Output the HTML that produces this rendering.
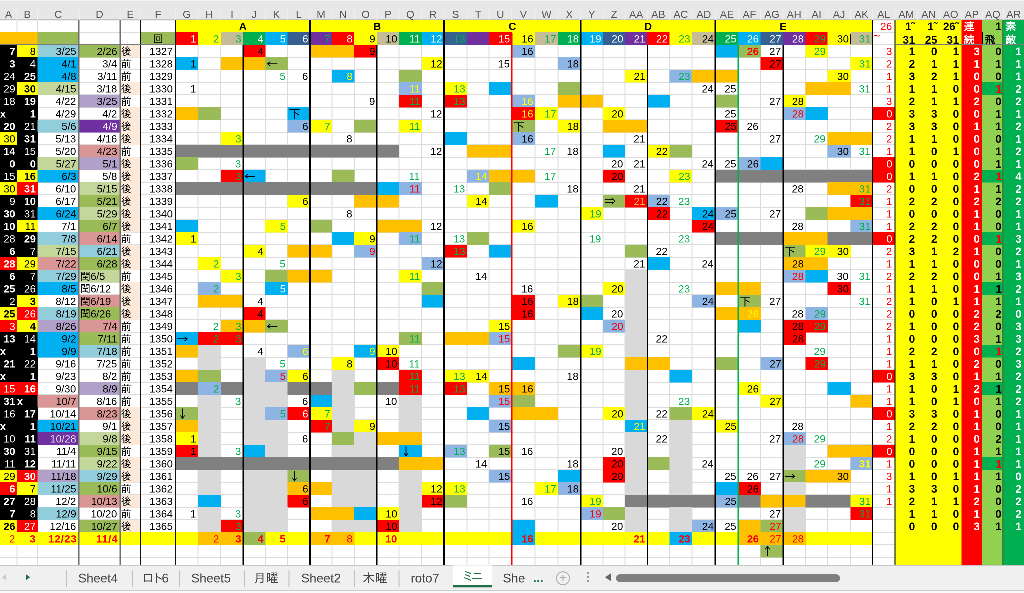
<!DOCTYPE html>
<html lang="ja"><head><meta charset="utf-8"><title>ミニ</title>
<style>
html,body{margin:0;padding:0;background:#fff;overflow:hidden}
#o{position:relative;width:1024px;height:593px;overflow:hidden;background:#fff}
#w{position:absolute;left:0;top:0;width:4096px;height:2372px;overflow:hidden;transform:scale(0.25);transform-origin:0 0;will-change:transform;font-family:"Liberation Sans","IPAGothic","Noto Sans CJK JP",sans-serif;font-size:42px;color:#000}
.c{position:absolute;box-sizing:border-box;text-align:right;padding-right:8px;white-space:nowrap;overflow:hidden}
.b{font-weight:bold}
.l{text-align:left;padding-left:4px;padding-right:0}
.x0{padding-left:0}
.ctr{text-align:center;padding:0}
.jp{font-family:"Liberation Sans","IPAGothic","Noto Sans CJK JP",sans-serif}
.dt{padding-right:12px}
.dt.l{padding-left:4px}
.f{padding-right:11px}
.big{letter-spacing:2px}
.al{padding-right:12px}
.rb{font-weight:bold;font-size:44px;padding-right:12px}
.dn{padding-top:4px}
.rb{padding-right:10px}
.rb.aq{padding-right:7px}
.ar{font-family:"IPAGothic","Noto Sans CJK JP",sans-serif;font-size:48px;padding-left:4px}
.rb.l{padding-left:8px;padding-right:0}
.ch{position:absolute;top:30px;height:56px;line-height:56px;text-align:center;color:#555;font-size:42px}
.cs{position:absolute;top:36px;width:4px;height:44px;background:#eeeeee}
.vl{position:absolute;top:80px;width:4px;height:2181px;background:#dcdcdc}
.hl{position:absolute;left:0;width:3580px;height:4px;background:#dcdcdc}
.sl{position:absolute}
#hd{position:absolute;left:0;top:0;width:4096px;height:80px;background:#e7e7e7;border-bottom:4px solid #c2c2c2;border-top:4px solid #f4f4f4;box-sizing:border-box}
#tb{position:absolute;left:0;top:2261px;width:4096px;height:112px;background:#f0f0f0;border-top:4px solid #c6c6c6;box-sizing:border-box;font-size:50px;color:#444}
.tab{position:absolute;top:16px;width:320px;height:64px;line-height:64px;text-align:center}
.tsep{position:absolute;top:16px;width:4px;height:68px;background:#c0c0c0}
</style></head><body>
<div id="o"><div id="w">
<!-- column fills on the right -->
<div class="c" style="left:3580px;top:80px;width:266px;height:2181px;background:#FFFF00"></div>
<div class="c" style="left:3846px;top:80px;width:83px;height:2181px;background:#FF0000"></div>
<div class="c" style="left:3929px;top:80px;width:84px;height:2181px;background:#92D050"></div>
<div class="c" style="left:4013px;top:80px;width:83px;height:2181px;background:#00B050"></div>
<div class="vl" style="left:66px"></div>
<div class="vl" style="left:148px"></div>
<div class="vl" style="left:314px"></div>
<div class="vl" style="left:478px"></div>
<div class="vl" style="left:560px"></div>
<div class="vl" style="left:700px"></div>
<div class="vl" style="left:790px"></div>
<div class="vl" style="left:881px"></div>
<div class="vl" style="left:970px"></div>
<div class="vl" style="left:1059px"></div>
<div class="vl" style="left:1148px"></div>
<div class="vl" style="left:1238px"></div>
<div class="vl" style="left:1326px"></div>
<div class="vl" style="left:1415px"></div>
<div class="vl" style="left:1506px"></div>
<div class="vl" style="left:1594px"></div>
<div class="vl" style="left:1685px"></div>
<div class="vl" style="left:1774px"></div>
<div class="vl" style="left:1866px"></div>
<div class="vl" style="left:1954px"></div>
<div class="vl" style="left:2045px"></div>
<div class="vl" style="left:2138px"></div>
<div class="vl" style="left:2230px"></div>
<div class="vl" style="left:2320px"></div>
<div class="vl" style="left:2410px"></div>
<div class="vl" style="left:2498px"></div>
<div class="vl" style="left:2587px"></div>
<div class="vl" style="left:2676px"></div>
<div class="vl" style="left:2766px"></div>
<div class="vl" style="left:2860px"></div>
<div class="vl" style="left:2951px"></div>
<div class="vl" style="left:3040px"></div>
<div class="vl" style="left:3130px"></div>
<div class="vl" style="left:3220px"></div>
<div class="vl" style="left:3308px"></div>
<div class="vl" style="left:3400px"></div>
<div class="vl" style="left:3488px"></div>
<div class="vl" style="left:3578px"></div>
<div class="hl" style="top:78px"></div>
<div class="hl" style="top:127px"></div>
<div class="hl" style="top:177px"></div>
<div class="hl" style="top:227px"></div>
<div class="hl" style="top:277px"></div>
<div class="hl" style="top:327px"></div>
<div class="hl" style="top:377px"></div>
<div class="hl" style="top:427px"></div>
<div class="hl" style="top:477px"></div>
<div class="hl" style="top:527px"></div>
<div class="hl" style="top:577px"></div>
<div class="hl" style="top:627px"></div>
<div class="hl" style="top:677px"></div>
<div class="hl" style="top:727px"></div>
<div class="hl" style="top:777px"></div>
<div class="hl" style="top:827px"></div>
<div class="hl" style="top:877px"></div>
<div class="hl" style="top:927px"></div>
<div class="hl" style="top:977px"></div>
<div class="hl" style="top:1027px"></div>
<div class="hl" style="top:1077px"></div>
<div class="hl" style="top:1127px"></div>
<div class="hl" style="top:1177px"></div>
<div class="hl" style="top:1227px"></div>
<div class="hl" style="top:1277px"></div>
<div class="hl" style="top:1327px"></div>
<div class="hl" style="top:1377px"></div>
<div class="hl" style="top:1427px"></div>
<div class="hl" style="top:1477px"></div>
<div class="hl" style="top:1527px"></div>
<div class="hl" style="top:1577px"></div>
<div class="hl" style="top:1627px"></div>
<div class="hl" style="top:1677px"></div>
<div class="hl" style="top:1727px"></div>
<div class="hl" style="top:1777px"></div>
<div class="hl" style="top:1827px"></div>
<div class="hl" style="top:1877px"></div>
<div class="hl" style="top:1927px"></div>
<div class="hl" style="top:1977px"></div>
<div class="hl" style="top:2027px"></div>
<div class="hl" style="top:2077px"></div>
<div class="hl" style="top:2127px"></div>
<div class="hl" style="top:2177px"></div>
<div class="hl" style="top:2227px"></div>
<div class="c b ctr" style="left:702px;top:80px;width:539px;height:50px;line-height:52px;background:#FFFF00;">A</div>
<div class="c b ctr" style="left:1240px;top:80px;width:537px;height:50px;line-height:52px;background:#FFFF00;">B</div>
<div class="c b ctr" style="left:1776px;top:80px;width:547px;height:50px;line-height:52px;background:#FFFF00;">C</div>
<div class="c b ctr" style="left:2322px;top:80px;width:541px;height:50px;line-height:52px;background:#FFFF00;">D</div>
<div class="c b ctr" style="left:2862px;top:80px;width:541px;height:50px;line-height:52px;background:#FFFF00;">E</div>
<div class="c b ctr" style="left:3402px;top:80px;width:89px;height:50px;line-height:52px;background:#FFFF00;"></div>
<div class="c" style="left:702px;top:129px;width:91px;height:51px;line-height:53px;background:#FF0000;color:#FFFFFF;">1</div>
<div class="c" style="left:792px;top:129px;width:92px;height:51px;line-height:53px;background:#FFFF00;color:#00B050;">2</div>
<div class="c" style="left:883px;top:129px;width:90px;height:51px;line-height:53px;background:#C4BD97;color:#00B050;">3</div>
<div class="c" style="left:972px;top:129px;width:90px;height:51px;line-height:53px;background:#00B050;color:#FFFFFF;">4</div>
<div class="c" style="left:1061px;top:129px;width:90px;height:51px;line-height:53px;background:#00B0F0;color:#FFFFFF;">5</div>
<div class="c" style="left:1150px;top:129px;width:91px;height:51px;line-height:53px;background:#366092;color:#FFFFFF;">6</div>
<div class="c" style="left:1240px;top:129px;width:89px;height:51px;line-height:53px;background:#7030A0;color:#00B050;">7</div>
<div class="c" style="left:1328px;top:129px;width:90px;height:51px;line-height:53px;background:#FF0000;color:#FFFFFF;">8</div>
<div class="c" style="left:1417px;top:129px;width:92px;height:51px;line-height:53px;background:#FFFF00;color:#000000;">9</div>
<div class="c" style="left:1508px;top:129px;width:89px;height:51px;line-height:53px;background:#C4BD97;color:#000000;">10</div>
<div class="c" style="left:1596px;top:129px;width:92px;height:51px;line-height:53px;background:#00B050;color:#FFFFFF;">11</div>
<div class="c" style="left:1687px;top:129px;width:90px;height:51px;line-height:53px;background:#00B0F0;color:#FFFFFF;">12</div>
<div class="c" style="left:1776px;top:129px;width:93px;height:51px;line-height:53px;background:#366092;color:#00B050;">13</div>
<div class="c" style="left:1868px;top:129px;width:89px;height:51px;line-height:53px;background:#7030A0;color:#7030A0;">14</div>
<div class="c" style="left:1956px;top:129px;width:92px;height:51px;line-height:53px;background:#FF0000;color:#FFFFFF;">15</div>
<div class="c" style="left:2047px;top:129px;width:94px;height:51px;line-height:53px;background:#FFFF00;color:#000000;">16</div>
<div class="c" style="left:2140px;top:129px;width:93px;height:51px;line-height:53px;background:#C4BD97;color:#00B050;">17</div>
<div class="c" style="left:2232px;top:129px;width:91px;height:51px;line-height:53px;background:#00B050;color:#FFFFFF;">18</div>
<div class="c" style="left:2322px;top:129px;width:91px;height:51px;line-height:53px;background:#00B0F0;color:#FFFFFF;">19</div>
<div class="c" style="left:2412px;top:129px;width:89px;height:51px;line-height:53px;background:#366092;color:#FFFFFF;">20</div>
<div class="c" style="left:2500px;top:129px;width:90px;height:51px;line-height:53px;background:#7030A0;color:#FFFFFF;">21</div>
<div class="c" style="left:2589px;top:129px;width:90px;height:51px;line-height:53px;background:#FF0000;color:#FFFFFF;">22</div>
<div class="c" style="left:2678px;top:129px;width:91px;height:51px;line-height:53px;background:#FFFF00;color:#00B050;">23</div>
<div class="c" style="left:2768px;top:129px;width:95px;height:51px;line-height:53px;background:#C4BD97;color:#000000;">24</div>
<div class="c" style="left:2862px;top:129px;width:92px;height:51px;line-height:53px;background:#00B050;color:#FFFFFF;">25</div>
<div class="c" style="left:2953px;top:129px;width:90px;height:51px;line-height:53px;background:#00B0F0;color:#FFFFFF;">26</div>
<div class="c" style="left:3042px;top:129px;width:91px;height:51px;line-height:53px;background:#366092;color:#FFFFFF;">27</div>
<div class="c" style="left:3132px;top:129px;width:91px;height:51px;line-height:53px;background:#7030A0;color:#FFFFFF;">28</div>
<div class="c" style="left:3222px;top:129px;width:89px;height:51px;line-height:53px;background:#FF0000;color:#00B050;">29</div>
<div class="c" style="left:3310px;top:129px;width:93px;height:51px;line-height:53px;background:#FFFF00;color:#000000;">30</div>
<div class="c" style="left:3402px;top:129px;width:89px;height:51px;line-height:53px;background:#C4BD97;color:#00B050;">31</div>
<div class="c" style="left:0px;top:129px;width:151px;height:51px;line-height:53px;background:#FFC000;"></div>
<div class="c" style="left:150px;top:129px;width:167px;height:51px;line-height:53px;background:#9BBB59;"></div>
<div class="c ctr jp" style="left:562px;top:129px;width:141px;height:51px;line-height:53px;background:#9BBB59;">回</div>
<div class="c al" style="left:3490px;top:80px;width:90px;height:49px;line-height:52px;color:#FF0000;">26</div>
<div class="c l" style="left:3490px;top:129px;width:90px;height:50px;line-height:53px;color:#FF0000;line-height:28px;font-size:48px">~</div>
<div class="c rb" style="left:3580px;top:80px;width:90px;height:49px;line-height:52px;">1˜</div>
<div class="c rb dn" style="left:3580px;top:129px;width:90px;height:50px;line-height:53px;">31</div>
<div class="c rb" style="left:3670px;top:80px;width:89px;height:49px;line-height:52px;">1˜</div>
<div class="c rb dn" style="left:3670px;top:129px;width:89px;height:50px;line-height:53px;">25</div>
<div class="c rb" style="left:3759px;top:80px;width:87px;height:49px;line-height:52px;">26˜</div>
<div class="c rb dn" style="left:3759px;top:129px;width:87px;height:50px;line-height:53px;">31</div>
<div class="c rb jp l" style="left:3846px;top:80px;width:83px;height:49px;line-height:52px;color:#fff;">連</div>
<div class="c rb jp l dn" style="left:3846px;top:129px;width:83px;height:50px;line-height:53px;color:#fff;">続</div>
<div class="c rb aq" style="left:3929px;top:80px;width:84px;height:49px;line-height:52px;">1</div>
<div class="c rb jp l dn" style="left:3929px;top:129px;width:84px;height:50px;line-height:53px;">飛</div>
<div class="c rb jp l" style="left:4013px;top:80px;width:83px;height:49px;line-height:52px;color:#fff;">素</div>
<div class="c rb jp l dn" style="left:4013px;top:129px;width:83px;height:50px;line-height:53px;color:#fff;">敵</div>
<div class="c b" style="left:0px;top:179px;width:69px;height:51px;line-height:53px;background:#000;color:#fff;">7</div>
<div class="c" style="left:68px;top:179px;width:83px;height:51px;line-height:53px;background:#FFFF00;color:#000;">8</div>
<div class="c dt" style="left:150px;top:179px;width:167px;height:51px;line-height:53px;background:#92CDDC;">3/25</div>
<div class="c dt" style="left:316px;top:179px;width:165px;height:51px;line-height:53px;background:#9BBB59;">2/26</div>
<div class="c l jp" style="left:480px;top:179px;width:83px;height:51px;line-height:53px;background:#FDE9D9;">後</div>
<div class="c dt f" style="left:562px;top:179px;width:140px;height:50px;line-height:53px;">1327</div>
<div class="c b" style="left:0px;top:229px;width:69px;height:51px;line-height:53px;background:#000;color:#fff;">3</div>
<div class="c" style="left:68px;top:229px;width:83px;height:51px;line-height:53px;background:#000;color:#fff;">4</div>
<div class="c dt" style="left:150px;top:229px;width:167px;height:51px;line-height:53px;background:#00B0F0;">4/1</div>
<div class="c dt" style="left:316px;top:229px;width:164px;height:50px;line-height:53px;">3/4</div>
<div class="c l jp" style="left:480px;top:229px;width:82px;height:50px;line-height:53px;">前</div>
<div class="c dt f" style="left:562px;top:229px;width:140px;height:50px;line-height:53px;">1328</div>
<div class="c" style="left:0px;top:279px;width:69px;height:51px;line-height:53px;background:#000;color:#fff;">24</div>
<div class="c b" style="left:68px;top:279px;width:83px;height:51px;line-height:53px;background:#000;color:#fff;">25</div>
<div class="c dt" style="left:150px;top:279px;width:167px;height:51px;line-height:53px;background:#00B0F0;">4/8</div>
<div class="c dt" style="left:316px;top:279px;width:164px;height:50px;line-height:53px;">3/11</div>
<div class="c l jp" style="left:480px;top:279px;width:82px;height:50px;line-height:53px;">前</div>
<div class="c dt f" style="left:562px;top:279px;width:140px;height:50px;line-height:53px;">1329</div>
<div class="c" style="left:0px;top:329px;width:69px;height:51px;line-height:53px;background:#000;color:#fff;">29</div>
<div class="c b" style="left:68px;top:329px;width:83px;height:51px;line-height:53px;background:#FFFF00;color:#000;">30</div>
<div class="c dt" style="left:150px;top:329px;width:167px;height:51px;line-height:53px;background:#C4D79B;">4/15</div>
<div class="c dt" style="left:316px;top:329px;width:164px;height:50px;line-height:53px;">3/18</div>
<div class="c l jp" style="left:480px;top:329px;width:83px;height:51px;line-height:53px;background:#FDE9D9;">後</div>
<div class="c dt f" style="left:562px;top:329px;width:140px;height:50px;line-height:53px;">1330</div>
<div class="c" style="left:0px;top:379px;width:69px;height:51px;line-height:53px;background:#000;color:#fff;">18</div>
<div class="c b" style="left:68px;top:379px;width:83px;height:51px;line-height:53px;background:#000;color:#fff;">19</div>
<div class="c dt" style="left:150px;top:379px;width:166px;height:50px;line-height:53px;">4/22</div>
<div class="c dt" style="left:316px;top:379px;width:165px;height:51px;line-height:53px;background:#B1A0C7;">3/25</div>
<div class="c l jp" style="left:480px;top:379px;width:82px;height:50px;line-height:53px;">前</div>
<div class="c dt f" style="left:562px;top:379px;width:140px;height:50px;line-height:53px;">1331</div>
<div class="c b l x0" style="left:0px;top:429px;width:69px;height:51px;line-height:53px;background:#000;color:#fff;">x</div>
<div class="c b" style="left:68px;top:429px;width:83px;height:51px;line-height:53px;background:#000;color:#fff;">1</div>
<div class="c dt" style="left:150px;top:429px;width:166px;height:50px;line-height:53px;">4/29</div>
<div class="c dt" style="left:316px;top:429px;width:164px;height:50px;line-height:53px;">4/2</div>
<div class="c l jp" style="left:480px;top:429px;width:83px;height:51px;line-height:53px;background:#FDE9D9;">後</div>
<div class="c dt f" style="left:562px;top:429px;width:140px;height:50px;line-height:53px;">1332</div>
<div class="c b" style="left:0px;top:479px;width:69px;height:51px;line-height:53px;background:#000;color:#fff;">20</div>
<div class="c" style="left:68px;top:479px;width:83px;height:51px;line-height:53px;background:#000;color:#fff;">21</div>
<div class="c dt" style="left:150px;top:479px;width:167px;height:51px;line-height:53px;background:#92CDDC;">5/6</div>
<div class="c dt" style="left:316px;top:479px;width:165px;height:51px;line-height:53px;background:#7030A0;color:#FFFFFF;">4/9</div>
<div class="c l jp" style="left:480px;top:479px;width:83px;height:51px;line-height:53px;background:#FDE9D9;">後</div>
<div class="c dt f" style="left:562px;top:479px;width:140px;height:50px;line-height:53px;">1333</div>
<div class="c" style="left:0px;top:529px;width:69px;height:51px;line-height:53px;background:#FFFF00;color:#000;">30</div>
<div class="c b" style="left:68px;top:529px;width:83px;height:51px;line-height:53px;background:#000;color:#fff;">31</div>
<div class="c dt" style="left:150px;top:529px;width:166px;height:50px;line-height:53px;">5/13</div>
<div class="c dt" style="left:316px;top:529px;width:164px;height:50px;line-height:53px;">4/16</div>
<div class="c l jp" style="left:480px;top:529px;width:83px;height:51px;line-height:53px;background:#FDE9D9;">後</div>
<div class="c dt f" style="left:562px;top:529px;width:140px;height:50px;line-height:53px;">1334</div>
<div class="c b" style="left:0px;top:579px;width:69px;height:51px;line-height:53px;background:#000;color:#fff;">14</div>
<div class="c" style="left:68px;top:579px;width:83px;height:51px;line-height:53px;background:#000;color:#fff;">15</div>
<div class="c dt" style="left:150px;top:579px;width:166px;height:50px;line-height:53px;">5/20</div>
<div class="c dt" style="left:316px;top:579px;width:165px;height:51px;line-height:53px;background:#DA9694;">4/23</div>
<div class="c l jp" style="left:480px;top:579px;width:82px;height:50px;line-height:53px;">前</div>
<div class="c dt f" style="left:562px;top:579px;width:140px;height:50px;line-height:53px;">1335</div>
<div class="c b" style="left:0px;top:629px;width:69px;height:51px;line-height:53px;background:#000;color:#fff;">0</div>
<div class="c b" style="left:68px;top:629px;width:83px;height:51px;line-height:53px;background:#000;color:#fff;">0</div>
<div class="c dt" style="left:150px;top:629px;width:167px;height:51px;line-height:53px;background:#C4D79B;">5/27</div>
<div class="c dt" style="left:316px;top:629px;width:165px;height:51px;line-height:53px;background:#B1A0C7;">5/1</div>
<div class="c l jp" style="left:480px;top:629px;width:83px;height:51px;line-height:53px;background:#FDE9D9;">後</div>
<div class="c dt f" style="left:562px;top:629px;width:140px;height:50px;line-height:53px;">1336</div>
<div class="c" style="left:0px;top:679px;width:69px;height:51px;line-height:53px;background:#000;color:#fff;">15</div>
<div class="c b" style="left:68px;top:679px;width:83px;height:51px;line-height:53px;background:#FFFF00;color:#000;">16</div>
<div class="c dt" style="left:150px;top:679px;width:167px;height:51px;line-height:53px;background:#00B0F0;">6/3</div>
<div class="c dt" style="left:316px;top:679px;width:164px;height:50px;line-height:53px;">5/8</div>
<div class="c l jp" style="left:480px;top:679px;width:83px;height:51px;line-height:53px;background:#FDE9D9;">後</div>
<div class="c dt f" style="left:562px;top:679px;width:140px;height:50px;line-height:53px;">1337</div>
<div class="c" style="left:0px;top:729px;width:69px;height:51px;line-height:53px;background:#FFFF00;color:#000;">30</div>
<div class="c b" style="left:68px;top:729px;width:83px;height:51px;line-height:53px;background:#FF0000;color:#fff;">31</div>
<div class="c dt" style="left:150px;top:729px;width:166px;height:50px;line-height:53px;">6/10</div>
<div class="c dt" style="left:316px;top:729px;width:165px;height:51px;line-height:53px;background:#C4D79B;">5/15</div>
<div class="c l jp" style="left:480px;top:729px;width:83px;height:51px;line-height:53px;background:#FDE9D9;">後</div>
<div class="c dt f" style="left:562px;top:729px;width:140px;height:50px;line-height:53px;">1338</div>
<div class="c" style="left:0px;top:779px;width:69px;height:51px;line-height:53px;background:#000;color:#fff;">9</div>
<div class="c b" style="left:68px;top:779px;width:83px;height:51px;line-height:53px;background:#000;color:#fff;">10</div>
<div class="c dt" style="left:150px;top:779px;width:166px;height:50px;line-height:53px;">6/17</div>
<div class="c dt" style="left:316px;top:779px;width:165px;height:51px;line-height:53px;background:#9BBB59;">5/21</div>
<div class="c l jp" style="left:480px;top:779px;width:83px;height:51px;line-height:53px;background:#FDE9D9;">後</div>
<div class="c dt f" style="left:562px;top:779px;width:140px;height:50px;line-height:53px;">1339</div>
<div class="c b" style="left:0px;top:829px;width:69px;height:51px;line-height:53px;background:#000;color:#fff;">30</div>
<div class="c" style="left:68px;top:829px;width:83px;height:51px;line-height:53px;background:#000;color:#fff;">31</div>
<div class="c dt" style="left:150px;top:829px;width:167px;height:51px;line-height:53px;background:#00B0F0;">6/24</div>
<div class="c dt" style="left:316px;top:829px;width:165px;height:51px;line-height:53px;background:#C4D79B;">5/29</div>
<div class="c l jp" style="left:480px;top:829px;width:83px;height:51px;line-height:53px;background:#FDE9D9;">後</div>
<div class="c dt f" style="left:562px;top:829px;width:140px;height:50px;line-height:53px;">1340</div>
<div class="c b" style="left:0px;top:879px;width:69px;height:51px;line-height:53px;background:#000;color:#fff;">10</div>
<div class="c" style="left:68px;top:879px;width:83px;height:51px;line-height:53px;background:#FFFF00;color:#000;">11</div>
<div class="c dt" style="left:150px;top:879px;width:166px;height:50px;line-height:53px;">7/1</div>
<div class="c dt" style="left:316px;top:879px;width:165px;height:51px;line-height:53px;background:#9BBB59;">6/7</div>
<div class="c l jp" style="left:480px;top:879px;width:83px;height:51px;line-height:53px;background:#FDE9D9;">後</div>
<div class="c dt f" style="left:562px;top:879px;width:140px;height:50px;line-height:53px;">1341</div>
<div class="c" style="left:0px;top:929px;width:69px;height:51px;line-height:53px;background:#000;color:#fff;">28</div>
<div class="c b" style="left:68px;top:929px;width:83px;height:51px;line-height:53px;background:#000;color:#fff;">29</div>
<div class="c dt" style="left:150px;top:929px;width:167px;height:51px;line-height:53px;background:#92CDDC;">7/8</div>
<div class="c dt" style="left:316px;top:929px;width:165px;height:51px;line-height:53px;background:#DA9694;">6/14</div>
<div class="c l jp" style="left:480px;top:929px;width:82px;height:50px;line-height:53px;">前</div>
<div class="c dt f" style="left:562px;top:929px;width:140px;height:50px;line-height:53px;">1342</div>
<div class="c b" style="left:0px;top:979px;width:69px;height:51px;line-height:53px;background:#000;color:#fff;">6</div>
<div class="c" style="left:68px;top:979px;width:83px;height:51px;line-height:53px;background:#000;color:#fff;">7</div>
<div class="c dt" style="left:150px;top:979px;width:167px;height:51px;line-height:53px;background:#C4D79B;">7/15</div>
<div class="c dt" style="left:316px;top:979px;width:165px;height:51px;line-height:53px;background:#92CDDC;">6/21</div>
<div class="c l jp" style="left:480px;top:979px;width:83px;height:51px;line-height:53px;background:#FDE9D9;">後</div>
<div class="c dt f" style="left:562px;top:979px;width:140px;height:50px;line-height:53px;">1343</div>
<div class="c b" style="left:0px;top:1029px;width:69px;height:51px;line-height:53px;background:#FF0000;color:#fff;">28</div>
<div class="c" style="left:68px;top:1029px;width:83px;height:51px;line-height:53px;background:#FFFF00;color:#000;">29</div>
<div class="c dt" style="left:150px;top:1029px;width:167px;height:51px;line-height:53px;background:#DA9694;">7/22</div>
<div class="c dt" style="left:316px;top:1029px;width:165px;height:51px;line-height:53px;background:#9BBB59;">6/28</div>
<div class="c l jp" style="left:480px;top:1029px;width:83px;height:51px;line-height:53px;background:#FDE9D9;">後</div>
<div class="c dt f" style="left:562px;top:1029px;width:140px;height:50px;line-height:53px;">1344</div>
<div class="c b" style="left:0px;top:1079px;width:69px;height:51px;line-height:53px;background:#000;color:#fff;">6</div>
<div class="c" style="left:68px;top:1079px;width:83px;height:51px;line-height:53px;background:#000;color:#fff;">7</div>
<div class="c dt" style="left:150px;top:1079px;width:167px;height:51px;line-height:53px;background:#92CDDC;">7/29</div>
<div class="c dt l" style="left:316px;top:1079px;width:165px;height:51px;line-height:53px;background:#C4D79B;">閏6/5</div>
<div class="c l jp" style="left:480px;top:1079px;width:82px;height:50px;line-height:53px;">前</div>
<div class="c dt f" style="left:562px;top:1079px;width:140px;height:50px;line-height:53px;">1345</div>
<div class="c b" style="left:0px;top:1129px;width:69px;height:51px;line-height:53px;background:#000;color:#fff;">25</div>
<div class="c" style="left:68px;top:1129px;width:83px;height:51px;line-height:53px;background:#000;color:#fff;">26</div>
<div class="c dt" style="left:150px;top:1129px;width:167px;height:51px;line-height:53px;background:#00B0F0;">8/5</div>
<div class="c dt l" style="left:316px;top:1129px;width:164px;height:50px;line-height:53px;">閏6/12</div>
<div class="c l jp" style="left:480px;top:1129px;width:83px;height:51px;line-height:53px;background:#FDE9D9;">後</div>
<div class="c dt f" style="left:562px;top:1129px;width:140px;height:50px;line-height:53px;">1346</div>
<div class="c" style="left:0px;top:1179px;width:69px;height:51px;line-height:53px;background:#000;color:#fff;">2</div>
<div class="c b" style="left:68px;top:1179px;width:83px;height:51px;line-height:53px;background:#FFFF00;color:#000;">3</div>
<div class="c dt" style="left:150px;top:1179px;width:166px;height:50px;line-height:53px;">8/12</div>
<div class="c dt l" style="left:316px;top:1179px;width:165px;height:51px;line-height:53px;background:#DA9694;">閏6/19</div>
<div class="c l jp" style="left:480px;top:1179px;width:83px;height:51px;line-height:53px;background:#FDE9D9;">後</div>
<div class="c dt f" style="left:562px;top:1179px;width:140px;height:50px;line-height:53px;">1347</div>
<div class="c b" style="left:0px;top:1229px;width:69px;height:51px;line-height:53px;background:#FFFF00;color:#000;">25</div>
<div class="c" style="left:68px;top:1229px;width:83px;height:51px;line-height:53px;background:#FF0000;color:#fff;">26</div>
<div class="c dt" style="left:150px;top:1229px;width:167px;height:51px;line-height:53px;background:#92CDDC;">8/19</div>
<div class="c dt l" style="left:316px;top:1229px;width:165px;height:51px;line-height:53px;background:#9BBB59;">閏6/26</div>
<div class="c l jp" style="left:480px;top:1229px;width:83px;height:51px;line-height:53px;background:#FDE9D9;">後</div>
<div class="c dt f" style="left:562px;top:1229px;width:140px;height:50px;line-height:53px;">1348</div>
<div class="c" style="left:0px;top:1279px;width:69px;height:51px;line-height:53px;background:#FF0000;color:#fff;">3</div>
<div class="c b" style="left:68px;top:1279px;width:83px;height:51px;line-height:53px;background:#FFFF00;color:#000;">4</div>
<div class="c dt" style="left:150px;top:1279px;width:167px;height:51px;line-height:53px;background:#B1A0C7;">8/26</div>
<div class="c dt" style="left:316px;top:1279px;width:165px;height:51px;line-height:53px;background:#DA9694;">7/4</div>
<div class="c l jp" style="left:480px;top:1279px;width:82px;height:50px;line-height:53px;">前</div>
<div class="c dt f" style="left:562px;top:1279px;width:140px;height:50px;line-height:53px;">1349</div>
<div class="c b" style="left:0px;top:1329px;width:69px;height:51px;line-height:53px;background:#000;color:#fff;">13</div>
<div class="c" style="left:68px;top:1329px;width:83px;height:51px;line-height:53px;background:#000;color:#fff;">14</div>
<div class="c dt" style="left:150px;top:1329px;width:167px;height:51px;line-height:53px;background:#00B0F0;">9/2</div>
<div class="c dt" style="left:316px;top:1329px;width:165px;height:51px;line-height:53px;background:#9BBB59;">7/11</div>
<div class="c l jp" style="left:480px;top:1329px;width:82px;height:50px;line-height:53px;">前</div>
<div class="c dt f" style="left:562px;top:1329px;width:140px;height:50px;line-height:53px;">1350</div>
<div class="c b l x0" style="left:0px;top:1379px;width:69px;height:51px;line-height:53px;background:#000;color:#fff;">x</div>
<div class="c b" style="left:68px;top:1379px;width:83px;height:51px;line-height:53px;background:#000;color:#fff;">1</div>
<div class="c dt" style="left:150px;top:1379px;width:167px;height:51px;line-height:53px;background:#00B0F0;">9/9</div>
<div class="c dt" style="left:316px;top:1379px;width:165px;height:51px;line-height:53px;background:#92CDDC;">7/18</div>
<div class="c l jp" style="left:480px;top:1379px;width:82px;height:50px;line-height:53px;">前</div>
<div class="c dt f" style="left:562px;top:1379px;width:140px;height:50px;line-height:53px;">1351</div>
<div class="c b" style="left:0px;top:1429px;width:69px;height:51px;line-height:53px;background:#000;color:#fff;">21</div>
<div class="c" style="left:68px;top:1429px;width:83px;height:51px;line-height:53px;background:#000;color:#fff;">22</div>
<div class="c dt" style="left:150px;top:1429px;width:166px;height:50px;line-height:53px;">9/16</div>
<div class="c dt" style="left:316px;top:1429px;width:164px;height:50px;line-height:53px;">7/25</div>
<div class="c l jp" style="left:480px;top:1429px;width:82px;height:50px;line-height:53px;">前</div>
<div class="c dt f" style="left:562px;top:1429px;width:140px;height:50px;line-height:53px;">1352</div>
<div class="c b l x0" style="left:0px;top:1479px;width:69px;height:51px;line-height:53px;background:#000;color:#fff;">x</div>
<div class="c b" style="left:68px;top:1479px;width:83px;height:51px;line-height:53px;background:#000;color:#fff;">1</div>
<div class="c dt" style="left:150px;top:1479px;width:166px;height:50px;line-height:53px;">9/23</div>
<div class="c dt" style="left:316px;top:1479px;width:164px;height:50px;line-height:53px;">8/2</div>
<div class="c l jp" style="left:480px;top:1479px;width:82px;height:50px;line-height:53px;">前</div>
<div class="c dt f" style="left:562px;top:1479px;width:140px;height:50px;line-height:53px;">1353</div>
<div class="c" style="left:0px;top:1529px;width:69px;height:51px;line-height:53px;background:#FF0000;color:#fff;">15</div>
<div class="c b" style="left:68px;top:1529px;width:83px;height:51px;line-height:53px;background:#FF0000;color:#fff;">16</div>
<div class="c dt" style="left:150px;top:1529px;width:166px;height:50px;line-height:53px;">9/30</div>
<div class="c dt" style="left:316px;top:1529px;width:165px;height:51px;line-height:53px;background:#B1A0C7;">8/9</div>
<div class="c l jp" style="left:480px;top:1529px;width:82px;height:50px;line-height:53px;">前</div>
<div class="c dt f" style="left:562px;top:1529px;width:140px;height:50px;line-height:53px;">1354</div>
<div class="c b" style="left:0px;top:1579px;width:69px;height:51px;line-height:53px;background:#000;color:#fff;">31</div>
<div class="c b l x0" style="left:68px;top:1579px;width:83px;height:51px;line-height:53px;background:#000;color:#fff;">x</div>
<div class="c dt" style="left:150px;top:1579px;width:167px;height:51px;line-height:53px;background:#DA9694;">10/7</div>
<div class="c dt" style="left:316px;top:1579px;width:164px;height:50px;line-height:53px;">8/16</div>
<div class="c l jp" style="left:480px;top:1579px;width:82px;height:50px;line-height:53px;">前</div>
<div class="c dt f" style="left:562px;top:1579px;width:140px;height:50px;line-height:53px;">1355</div>
<div class="c" style="left:0px;top:1629px;width:69px;height:51px;line-height:53px;background:#000;color:#fff;">16</div>
<div class="c b" style="left:68px;top:1629px;width:83px;height:51px;line-height:53px;background:#000;color:#fff;">17</div>
<div class="c dt" style="left:150px;top:1629px;width:166px;height:50px;line-height:53px;">10/14</div>
<div class="c dt" style="left:316px;top:1629px;width:165px;height:51px;line-height:53px;background:#DA9694;">8/23</div>
<div class="c l jp" style="left:480px;top:1629px;width:83px;height:51px;line-height:53px;background:#FDE9D9;">後</div>
<div class="c dt f" style="left:562px;top:1629px;width:140px;height:50px;line-height:53px;">1356</div>
<div class="c b l x0" style="left:0px;top:1679px;width:69px;height:51px;line-height:53px;background:#000;color:#fff;">x</div>
<div class="c b" style="left:68px;top:1679px;width:83px;height:51px;line-height:53px;background:#000;color:#fff;">1</div>
<div class="c dt" style="left:150px;top:1679px;width:167px;height:51px;line-height:53px;background:#00B0F0;">10/21</div>
<div class="c dt" style="left:316px;top:1679px;width:164px;height:50px;line-height:53px;">9/1</div>
<div class="c l jp" style="left:480px;top:1679px;width:83px;height:51px;line-height:53px;background:#FDE9D9;">後</div>
<div class="c dt f" style="left:562px;top:1679px;width:140px;height:50px;line-height:53px;">1357</div>
<div class="c" style="left:0px;top:1729px;width:69px;height:51px;line-height:53px;background:#000;color:#fff;">10</div>
<div class="c b" style="left:68px;top:1729px;width:83px;height:51px;line-height:53px;background:#000;color:#fff;">11</div>
<div class="c dt" style="left:150px;top:1729px;width:167px;height:51px;line-height:53px;background:#7030A0;color:#E4DFEC;">10/28</div>
<div class="c dt" style="left:316px;top:1729px;width:165px;height:51px;line-height:53px;background:#C4D79B;">9/8</div>
<div class="c l jp" style="left:480px;top:1729px;width:83px;height:51px;line-height:53px;background:#FDE9D9;">後</div>
<div class="c dt f" style="left:562px;top:1729px;width:140px;height:50px;line-height:53px;">1358</div>
<div class="c b" style="left:0px;top:1779px;width:69px;height:51px;line-height:53px;background:#000;color:#fff;">30</div>
<div class="c" style="left:68px;top:1779px;width:83px;height:51px;line-height:53px;background:#000;color:#fff;">31</div>
<div class="c dt" style="left:150px;top:1779px;width:166px;height:50px;line-height:53px;">11/4</div>
<div class="c dt" style="left:316px;top:1779px;width:165px;height:51px;line-height:53px;background:#9BBB59;">9/15</div>
<div class="c l jp" style="left:480px;top:1779px;width:82px;height:50px;line-height:53px;">前</div>
<div class="c dt f" style="left:562px;top:1779px;width:140px;height:50px;line-height:53px;">1359</div>
<div class="c" style="left:0px;top:1829px;width:69px;height:51px;line-height:53px;background:#000;color:#fff;">11</div>
<div class="c b" style="left:68px;top:1829px;width:83px;height:51px;line-height:53px;background:#000;color:#fff;">12</div>
<div class="c dt" style="left:150px;top:1829px;width:166px;height:50px;line-height:53px;">11/11</div>
<div class="c dt" style="left:316px;top:1829px;width:165px;height:51px;line-height:53px;background:#C4D79B;">9/22</div>
<div class="c l jp" style="left:480px;top:1829px;width:83px;height:51px;line-height:53px;background:#FDE9D9;">後</div>
<div class="c dt f" style="left:562px;top:1829px;width:140px;height:50px;line-height:53px;">1360</div>
<div class="c" style="left:0px;top:1879px;width:69px;height:51px;line-height:53px;background:#FFFF00;color:#000;">29</div>
<div class="c b" style="left:68px;top:1879px;width:83px;height:51px;line-height:53px;background:#FF0000;color:#fff;">30</div>
<div class="c dt" style="left:150px;top:1879px;width:167px;height:51px;line-height:53px;background:#B1A0C7;">11/18</div>
<div class="c dt" style="left:316px;top:1879px;width:165px;height:51px;line-height:53px;background:#92CDDC;">9/29</div>
<div class="c l jp" style="left:480px;top:1879px;width:83px;height:51px;line-height:53px;background:#FDE9D9;">後</div>
<div class="c dt f" style="left:562px;top:1879px;width:140px;height:50px;line-height:53px;">1361</div>
<div class="c b" style="left:0px;top:1929px;width:69px;height:51px;line-height:53px;background:#FF0000;color:#fff;">6</div>
<div class="c" style="left:68px;top:1929px;width:83px;height:51px;line-height:53px;background:#FFFF00;color:#000;">7</div>
<div class="c dt" style="left:150px;top:1929px;width:167px;height:51px;line-height:53px;background:#92CDDC;">11/25</div>
<div class="c dt" style="left:316px;top:1929px;width:165px;height:51px;line-height:53px;background:#9BBB59;">10/6</div>
<div class="c l jp" style="left:480px;top:1929px;width:82px;height:50px;line-height:53px;">前</div>
<div class="c dt f" style="left:562px;top:1929px;width:140px;height:50px;line-height:53px;">1362</div>
<div class="c b" style="left:0px;top:1979px;width:69px;height:51px;line-height:53px;background:#000;color:#fff;">27</div>
<div class="c" style="left:68px;top:1979px;width:83px;height:51px;line-height:53px;background:#000;color:#fff;">28</div>
<div class="c dt" style="left:150px;top:1979px;width:166px;height:50px;line-height:53px;">12/2</div>
<div class="c dt" style="left:316px;top:1979px;width:165px;height:51px;line-height:53px;background:#DA9694;">10/13</div>
<div class="c l jp" style="left:480px;top:1979px;width:83px;height:51px;line-height:53px;background:#FDE9D9;">後</div>
<div class="c dt f" style="left:562px;top:1979px;width:140px;height:50px;line-height:53px;">1363</div>
<div class="c b" style="left:0px;top:2029px;width:69px;height:51px;line-height:53px;background:#000;color:#fff;">7</div>
<div class="c" style="left:68px;top:2029px;width:83px;height:51px;line-height:53px;background:#000;color:#fff;">8</div>
<div class="c dt" style="left:150px;top:2029px;width:167px;height:51px;line-height:53px;background:#92CDDC;">12/9</div>
<div class="c dt" style="left:316px;top:2029px;width:164px;height:50px;line-height:53px;">10/20</div>
<div class="c l jp" style="left:480px;top:2029px;width:82px;height:50px;line-height:53px;">前</div>
<div class="c dt f" style="left:562px;top:2029px;width:140px;height:50px;line-height:53px;">1364</div>
<div class="c b" style="left:0px;top:2079px;width:69px;height:51px;line-height:53px;background:#FFFF00;color:#000;">26</div>
<div class="c" style="left:68px;top:2079px;width:83px;height:51px;line-height:53px;background:#FF0000;color:#fff;">27</div>
<div class="c dt" style="left:150px;top:2079px;width:166px;height:50px;line-height:53px;">12/16</div>
<div class="c dt" style="left:316px;top:2079px;width:165px;height:51px;line-height:53px;background:#9BBB59;">10/27</div>
<div class="c l jp" style="left:480px;top:2079px;width:83px;height:51px;line-height:53px;background:#FDE9D9;">後</div>
<div class="c dt f" style="left:562px;top:2079px;width:140px;height:50px;line-height:53px;">1365</div>
<div class="c" style="left:972px;top:179px;width:90px;height:51px;line-height:53px;background:#FF0000;">4</div>
<div class="c" style="left:1240px;top:179px;width:89px;height:51px;line-height:53px;background:#FFC000;"></div>
<div class="c" style="left:1328px;top:179px;width:90px;height:51px;line-height:53px;background:#FFC000;"></div>
<div class="c" style="left:1417px;top:179px;width:92px;height:51px;line-height:53px;background:#FF0000;">9</div>
<div class="c" style="left:2047px;top:179px;width:94px;height:51px;line-height:53px;background:#8DB4E2;">16</div>
<div class="c" style="left:2862px;top:179px;width:92px;height:51px;line-height:53px;background:#00B0F0;"></div>
<div class="c b" style="left:2953px;top:179px;width:90px;height:51px;line-height:53px;background:#9BBB59;color:#FF0000;">26</div>
<div class="c" style="left:3042px;top:179px;width:90px;height:50px;line-height:53px;">27</div>
<div class="c" style="left:3222px;top:179px;width:89px;height:51px;line-height:53px;background:#FFFF00;color:#00B050;">29</div>
<div class="c" style="left:702px;top:229px;width:91px;height:51px;line-height:53px;background:#00B0F0;">1</div>
<div class="c" style="left:883px;top:229px;width:90px;height:51px;line-height:53px;background:#FFC000;"></div>
<div class="c" style="left:972px;top:229px;width:90px;height:51px;line-height:53px;background:#FFC000;"></div>
<div class="c l jp ar" style="left:1061px;top:229px;width:90px;height:51px;line-height:53px;background:#9BBB59;">←</div>
<div class="c" style="left:1687px;top:229px;width:90px;height:51px;line-height:53px;background:#FFFF00;">12</div>
<div class="c" style="left:1956px;top:229px;width:91px;height:50px;line-height:53px;">15</div>
<div class="c" style="left:2232px;top:229px;width:91px;height:51px;line-height:53px;background:#8DB4E2;">18</div>
<div class="c" style="left:3042px;top:229px;width:91px;height:51px;line-height:53px;background:#FF0000;">27</div>
<div class="c" style="left:3402px;top:229px;width:89px;height:51px;line-height:53px;background:#FFFF00;color:#00B050;">31</div>
<div class="c" style="left:1061px;top:279px;width:89px;height:50px;line-height:53px;color:#00B050;">5</div>
<div class="c" style="left:1150px;top:279px;width:90px;height:50px;line-height:53px;">6</div>
<div class="c" style="left:1328px;top:279px;width:90px;height:51px;line-height:53px;background:#00B0F0;color:#FFFF00;">8</div>
<div class="c" style="left:1596px;top:279px;width:92px;height:51px;line-height:53px;background:#9BBB59;"></div>
<div class="c" style="left:2500px;top:279px;width:90px;height:51px;line-height:53px;background:#FFFF00;">21</div>
<div class="c" style="left:2678px;top:279px;width:91px;height:51px;line-height:53px;background:#8DB4E2;color:#00B050;">23</div>
<div class="c" style="left:2768px;top:279px;width:95px;height:51px;line-height:53px;background:#FFC000;"></div>
<div class="c" style="left:2862px;top:279px;width:92px;height:51px;line-height:53px;background:#FFC000;"></div>
<div class="c" style="left:3310px;top:279px;width:93px;height:51px;line-height:53px;background:#FFFF00;">30</div>
<div class="c" style="left:702px;top:329px;width:90px;height:50px;line-height:53px;">1</div>
<div class="c" style="left:1596px;top:329px;width:92px;height:51px;line-height:53px;background:#8DB4E2;color:#FFFF00;">11</div>
<div class="c" style="left:1776px;top:329px;width:93px;height:51px;line-height:53px;background:#FFFF00;color:#00B050;">13</div>
<div class="c" style="left:1956px;top:329px;width:92px;height:51px;line-height:53px;background:#00B0F0;"></div>
<div class="c" style="left:2232px;top:329px;width:91px;height:51px;line-height:53px;background:#9BBB59;"></div>
<div class="c" style="left:2768px;top:329px;width:94px;height:50px;line-height:53px;">24</div>
<div class="c" style="left:2862px;top:329px;width:91px;height:50px;line-height:53px;">25</div>
<div class="c" style="left:3222px;top:329px;width:89px;height:51px;line-height:53px;background:#FFC000;"></div>
<div class="c" style="left:3310px;top:329px;width:93px;height:51px;line-height:53px;background:#FFC000;"></div>
<div class="c" style="left:3402px;top:329px;width:88px;height:50px;line-height:53px;color:#00B050;">31</div>
<div class="c" style="left:1417px;top:379px;width:91px;height:50px;line-height:53px;">9</div>
<div class="c" style="left:1596px;top:379px;width:92px;height:51px;line-height:53px;background:#FF0000;color:#00B050;">11</div>
<div class="c" style="left:1776px;top:379px;width:93px;height:51px;line-height:53px;background:#FF0000;color:#00B050;">13</div>
<div class="c" style="left:2047px;top:379px;width:94px;height:51px;line-height:53px;background:#8DB4E2;color:#FFFF00;">16</div>
<div class="c" style="left:2232px;top:379px;width:91px;height:51px;line-height:53px;background:#FFC000;"></div>
<div class="c" style="left:2322px;top:379px;width:91px;height:51px;line-height:53px;background:#FFC000;"></div>
<div class="c" style="left:2589px;top:379px;width:90px;height:51px;line-height:53px;background:#00B0F0;"></div>
<div class="c" style="left:2862px;top:379px;width:92px;height:51px;line-height:53px;background:#9BBB59;"></div>
<div class="c" style="left:3042px;top:379px;width:90px;height:50px;line-height:53px;">27</div>
<div class="c" style="left:3132px;top:379px;width:91px;height:51px;line-height:53px;background:#FFFF00;">28</div>
<div class="c" style="left:702px;top:429px;width:91px;height:51px;line-height:53px;background:#FFC000;"></div>
<div class="c" style="left:792px;top:429px;width:92px;height:51px;line-height:53px;background:#9BBB59;"></div>
<div class="c l jp ar" style="left:1150px;top:429px;width:91px;height:51px;line-height:53px;background:#00B0F0;">下</div>
<div class="c" style="left:1687px;top:429px;width:89px;height:50px;line-height:53px;">12</div>
<div class="c" style="left:2047px;top:429px;width:94px;height:51px;line-height:53px;background:#FF0000;color:#FFFF00;">16</div>
<div class="c" style="left:2140px;top:429px;width:93px;height:51px;line-height:53px;background:#FFFF00;color:#00B050;">17</div>
<div class="c" style="left:2412px;top:429px;width:89px;height:51px;line-height:53px;background:#FFFF00;">20</div>
<div class="c" style="left:2862px;top:429px;width:91px;height:50px;line-height:53px;">25</div>
<div class="c" style="left:3132px;top:429px;width:91px;height:51px;line-height:53px;background:#8DB4E2;color:#FF0000;">28</div>
<div class="c" style="left:3222px;top:429px;width:89px;height:51px;line-height:53px;background:#00B0F0;"></div>
<div class="c" style="left:1150px;top:479px;width:91px;height:51px;line-height:53px;background:#8DB4E2;">6</div>
<div class="c" style="left:1240px;top:479px;width:89px;height:51px;line-height:53px;background:#FFFF00;color:#00B050;">7</div>
<div class="c" style="left:1417px;top:479px;width:92px;height:51px;line-height:53px;background:#9BBB59;"></div>
<div class="c" style="left:1596px;top:479px;width:92px;height:51px;line-height:53px;background:#FFFF00;color:#00B050;">11</div>
<div class="c l jp ar" style="left:2047px;top:479px;width:94px;height:51px;line-height:53px;background:#9BBB59;">下</div>
<div class="c" style="left:2232px;top:479px;width:91px;height:51px;line-height:53px;background:#FFFF00;">18</div>
<div class="c" style="left:2412px;top:479px;width:89px;height:51px;line-height:53px;background:#FFC000;"></div>
<div class="c" style="left:2500px;top:479px;width:90px;height:51px;line-height:53px;background:#FFC000;"></div>
<div class="c" style="left:2862px;top:479px;width:92px;height:51px;line-height:53px;background:#FF0000;">25</div>
<div class="c" style="left:2953px;top:479px;width:89px;height:50px;line-height:53px;">26</div>
<div class="c" style="left:883px;top:529px;width:90px;height:51px;line-height:53px;background:#FFFF00;color:#00B050;">3</div>
<div class="c" style="left:1328px;top:529px;width:89px;height:50px;line-height:53px;">8</div>
<div class="c" style="left:1776px;top:529px;width:93px;height:51px;line-height:53px;background:#00B0F0;"></div>
<div class="c" style="left:2047px;top:529px;width:94px;height:51px;line-height:53px;background:#8DB4E2;">16</div>
<div class="c" style="left:2500px;top:529px;width:89px;height:50px;line-height:53px;">21</div>
<div class="c" style="left:3042px;top:529px;width:90px;height:50px;line-height:53px;">27</div>
<div class="c" style="left:3222px;top:529px;width:88px;height:50px;line-height:53px;color:#00B050;">29</div>
<div class="c" style="left:3310px;top:529px;width:93px;height:51px;line-height:53px;background:#FFC000;"></div>
<div class="c" style="left:3402px;top:529px;width:89px;height:51px;line-height:53px;background:#FFC000;"></div>
<div class="c" style="left:702px;top:579px;width:895px;height:51px;line-height:53px;background:#808080;"></div>
<div class="c" style="left:1687px;top:579px;width:89px;height:50px;line-height:53px;">12</div>
<div class="c" style="left:1868px;top:579px;width:89px;height:51px;line-height:53px;background:#FFC000;"></div>
<div class="c" style="left:1956px;top:579px;width:92px;height:51px;line-height:53px;background:#FFC000;"></div>
<div class="c" style="left:2140px;top:579px;width:92px;height:50px;line-height:53px;color:#00B050;">17</div>
<div class="c" style="left:2232px;top:579px;width:90px;height:50px;line-height:53px;">18</div>
<div class="c" style="left:2412px;top:579px;width:89px;height:51px;line-height:53px;background:#00B0F0;"></div>
<div class="c" style="left:2589px;top:579px;width:90px;height:51px;line-height:53px;background:#FFFF00;">22</div>
<div class="c" style="left:2678px;top:579px;width:91px;height:51px;line-height:53px;background:#9BBB59;"></div>
<div class="c" style="left:3310px;top:579px;width:93px;height:51px;line-height:53px;background:#8DB4E2;">30</div>
<div class="c" style="left:3402px;top:579px;width:88px;height:50px;line-height:53px;color:#00B050;">31</div>
<div class="c" style="left:702px;top:629px;width:91px;height:51px;line-height:53px;background:#9BBB59;"></div>
<div class="c" style="left:883px;top:629px;width:89px;height:50px;line-height:53px;color:#00B050;">3</div>
<div class="c" style="left:2412px;top:629px;width:88px;height:50px;line-height:53px;">20</div>
<div class="c" style="left:2500px;top:629px;width:89px;height:50px;line-height:53px;">21</div>
<div class="c" style="left:2768px;top:629px;width:94px;height:50px;line-height:53px;">24</div>
<div class="c" style="left:2862px;top:629px;width:91px;height:50px;line-height:53px;">25</div>
<div class="c" style="left:2953px;top:629px;width:90px;height:51px;line-height:53px;background:#8DB4E2;">26</div>
<div class="c" style="left:3042px;top:629px;width:91px;height:51px;line-height:53px;background:#00B0F0;"></div>
<div class="c" style="left:883px;top:679px;width:90px;height:51px;line-height:53px;background:#FF0000;color:#00B050;">3</div>
<div class="c l jp ar" style="left:972px;top:679px;width:90px;height:51px;line-height:53px;background:#00B0F0;">←</div>
<div class="c" style="left:1328px;top:679px;width:90px;height:51px;line-height:53px;background:#9BBB59;"></div>
<div class="c" style="left:1596px;top:679px;width:91px;height:50px;line-height:53px;color:#00B050;">11</div>
<div class="c" style="left:1868px;top:679px;width:89px;height:51px;line-height:53px;background:#8DB4E2;color:#FFFF00;">14</div>
<div class="c" style="left:1956px;top:679px;width:92px;height:51px;line-height:53px;background:#FFC000;"></div>
<div class="c" style="left:2047px;top:679px;width:94px;height:51px;line-height:53px;background:#FFC000;"></div>
<div class="c" style="left:2140px;top:679px;width:92px;height:50px;line-height:53px;color:#00B050;">17</div>
<div class="c" style="left:2412px;top:679px;width:89px;height:51px;line-height:53px;background:#FF0000;">20</div>
<div class="c" style="left:2678px;top:679px;width:91px;height:51px;line-height:53px;background:#FFFF00;color:#00B050;">23</div>
<div class="c" style="left:2862px;top:679px;width:629px;height:51px;line-height:53px;background:#808080;"></div>
<div class="c" style="left:702px;top:729px;width:807px;height:51px;line-height:53px;background:#808080;"></div>
<div class="c" style="left:1508px;top:729px;width:89px;height:51px;line-height:53px;background:#00B0F0;"></div>
<div class="c" style="left:1596px;top:729px;width:92px;height:51px;line-height:53px;background:#8DB4E2;color:#FF0000;">11</div>
<div class="c" style="left:1776px;top:729px;width:92px;height:50px;line-height:53px;color:#00B050;">13</div>
<div class="c" style="left:1956px;top:729px;width:92px;height:51px;line-height:53px;background:#9BBB59;"></div>
<div class="c" style="left:2232px;top:729px;width:90px;height:50px;line-height:53px;">18</div>
<div class="c" style="left:2500px;top:729px;width:89px;height:50px;line-height:53px;">21</div>
<div class="c" style="left:3132px;top:729px;width:90px;height:50px;line-height:53px;">28</div>
<div class="c" style="left:3310px;top:729px;width:93px;height:51px;line-height:53px;background:#FFC000;"></div>
<div class="c" style="left:3402px;top:729px;width:89px;height:51px;line-height:53px;background:#FFC000;color:#00B050;">31</div>
<div class="c" style="left:1150px;top:779px;width:91px;height:51px;line-height:53px;background:#FFFF00;">6</div>
<div class="c" style="left:1417px;top:779px;width:92px;height:51px;line-height:53px;background:#FFC000;"></div>
<div class="c" style="left:1508px;top:779px;width:89px;height:51px;line-height:53px;background:#FFC000;"></div>
<div class="c" style="left:1868px;top:779px;width:89px;height:51px;line-height:53px;background:#FFFF00;">14</div>
<div class="c" style="left:2140px;top:779px;width:93px;height:51px;line-height:53px;background:#00B0F0;"></div>
<div class="c l jp ar" style="left:2412px;top:779px;width:89px;height:51px;line-height:53px;background:#9BBB59;">⇒</div>
<div class="c" style="left:2500px;top:779px;width:90px;height:51px;line-height:53px;background:#FF0000;color:#E0B850;">21</div>
<div class="c" style="left:2589px;top:779px;width:90px;height:51px;line-height:53px;background:#8DB4E2;">22</div>
<div class="c" style="left:2678px;top:779px;width:90px;height:50px;line-height:53px;color:#00B050;">23</div>
<div class="c" style="left:3402px;top:779px;width:89px;height:51px;line-height:53px;background:#FF0000;color:#00B050;">31</div>
<div class="c" style="left:1328px;top:829px;width:89px;height:50px;line-height:53px;">8</div>
<div class="c" style="left:2322px;top:829px;width:91px;height:51px;line-height:53px;background:#FFFF00;color:#00B050;">19</div>
<div class="c" style="left:2589px;top:829px;width:90px;height:51px;line-height:53px;background:#FF0000;">22</div>
<div class="c" style="left:2768px;top:829px;width:95px;height:51px;line-height:53px;background:#00B0F0;">24</div>
<div class="c" style="left:2862px;top:829px;width:92px;height:51px;line-height:53px;background:#8DB4E2;">25</div>
<div class="c" style="left:3042px;top:829px;width:90px;height:50px;line-height:53px;">27</div>
<div class="c" style="left:3222px;top:829px;width:89px;height:51px;line-height:53px;background:#9BBB59;"></div>
<div class="c" style="left:3310px;top:829px;width:93px;height:51px;line-height:53px;background:#FFC000;"></div>
<div class="c" style="left:3402px;top:829px;width:89px;height:51px;line-height:53px;background:#FFC000;"></div>
<div class="c" style="left:702px;top:879px;width:91px;height:51px;line-height:53px;background:#00B0F0;"></div>
<div class="c" style="left:1061px;top:879px;width:90px;height:51px;line-height:53px;background:#FFFF00;color:#00B050;">5</div>
<div class="c" style="left:1240px;top:879px;width:89px;height:51px;line-height:53px;background:#9BBB59;"></div>
<div class="c" style="left:1508px;top:879px;width:89px;height:51px;line-height:53px;background:#FFC000;"></div>
<div class="c" style="left:1596px;top:879px;width:92px;height:51px;line-height:53px;background:#FFC000;"></div>
<div class="c" style="left:1687px;top:879px;width:89px;height:50px;line-height:53px;">12</div>
<div class="c" style="left:2047px;top:879px;width:94px;height:51px;line-height:53px;background:#FFFF00;">16</div>
<div class="c" style="left:2768px;top:879px;width:95px;height:51px;line-height:53px;background:#FF0000;">24</div>
<div class="c" style="left:3132px;top:879px;width:90px;height:50px;line-height:53px;">28</div>
<div class="c" style="left:3402px;top:879px;width:89px;height:51px;line-height:53px;background:#8DB4E2;color:#00B050;">31</div>
<div class="c" style="left:702px;top:929px;width:91px;height:51px;line-height:53px;background:#FFFF00;">1</div>
<div class="c" style="left:1328px;top:929px;width:90px;height:51px;line-height:53px;background:#00B0F0;"></div>
<div class="c" style="left:1417px;top:929px;width:92px;height:51px;line-height:53px;background:#FFFF00;">9</div>
<div class="c" style="left:1596px;top:929px;width:92px;height:51px;line-height:53px;background:#8DB4E2;color:#00B050;">11</div>
<div class="c" style="left:1776px;top:929px;width:92px;height:50px;line-height:53px;color:#00B050;">13</div>
<div class="c" style="left:1868px;top:929px;width:89px;height:51px;line-height:53px;background:#9BBB59;"></div>
<div class="c" style="left:2322px;top:929px;width:90px;height:50px;line-height:53px;color:#00B050;">19</div>
<div class="c" style="left:2678px;top:929px;width:90px;height:50px;line-height:53px;color:#00B050;">23</div>
<div class="c" style="left:2862px;top:929px;width:271px;height:51px;line-height:53px;background:#808080;"></div>
<div class="c" style="left:3132px;top:929px;width:91px;height:51px;line-height:53px;background:#FFC000;"></div>
<div class="c" style="left:3222px;top:929px;width:89px;height:51px;line-height:53px;background:#FFC000;"></div>
<div class="c" style="left:3310px;top:929px;width:181px;height:51px;line-height:53px;background:#808080;"></div>
<div class="c" style="left:972px;top:979px;width:90px;height:51px;line-height:53px;background:#FFFF00;">4</div>
<div class="c" style="left:1150px;top:979px;width:91px;height:51px;line-height:53px;background:#FFC000;"></div>
<div class="c" style="left:1240px;top:979px;width:89px;height:51px;line-height:53px;background:#FFC000;"></div>
<div class="c" style="left:1417px;top:979px;width:92px;height:51px;line-height:53px;background:#8DB4E2;color:#FF0000;">9</div>
<div class="c" style="left:1776px;top:979px;width:93px;height:51px;line-height:53px;background:#FF0000;color:#00B050;">13</div>
<div class="c" style="left:1956px;top:979px;width:92px;height:51px;line-height:53px;background:#00B0F0;"></div>
<div class="c" style="left:2500px;top:979px;width:90px;height:51px;line-height:53px;background:#9BBB59;"></div>
<div class="c" style="left:2589px;top:979px;width:89px;height:50px;line-height:53px;">22</div>
<div class="c l jp ar" style="left:3132px;top:979px;width:91px;height:51px;line-height:53px;background:#9BBB59;">下</div>
<div class="c" style="left:3222px;top:979px;width:89px;height:51px;line-height:53px;background:#FFFF00;color:#00B050;">29</div>
<div class="c" style="left:3310px;top:979px;width:93px;height:51px;line-height:53px;background:#FFFF00;">30</div>
<div class="c" style="left:792px;top:1029px;width:92px;height:51px;line-height:53px;background:#FFFF00;color:#00B050;">2</div>
<div class="c" style="left:1061px;top:1029px;width:89px;height:50px;line-height:53px;color:#00B050;">5</div>
<div class="c" style="left:1687px;top:1029px;width:90px;height:51px;line-height:53px;background:#8DB4E2;">12</div>
<div class="c" style="left:2500px;top:1029px;width:89px;height:50px;line-height:53px;">21</div>
<div class="c" style="left:2589px;top:1029px;width:90px;height:51px;line-height:53px;background:#00B0F0;"></div>
<div class="c" style="left:2768px;top:1029px;width:94px;height:50px;line-height:53px;">24</div>
<div class="c" style="left:3132px;top:1029px;width:91px;height:51px;line-height:53px;background:#FFC000;">28</div>
<div class="c" style="left:3222px;top:1029px;width:89px;height:51px;line-height:53px;background:#FFC000;"></div>
<div class="c" style="left:883px;top:1079px;width:90px;height:51px;line-height:53px;background:#FFFF00;color:#00B050;">3</div>
<div class="c" style="left:1061px;top:1079px;width:90px;height:51px;line-height:53px;background:#9BBB59;"></div>
<div class="c" style="left:1150px;top:1079px;width:91px;height:51px;line-height:53px;background:#FFC000;"></div>
<div class="c" style="left:1240px;top:1079px;width:89px;height:51px;line-height:53px;background:#FFC000;"></div>
<div class="c" style="left:1596px;top:1079px;width:92px;height:51px;line-height:53px;background:#FFFF00;color:#00B050;">11</div>
<div class="c" style="left:1868px;top:1079px;width:88px;height:50px;line-height:53px;">14</div>
<div class="c" style="left:2500px;top:1079px;width:90px;height:51px;line-height:53px;background:#D9D9D9;"></div>
<div class="c" style="left:3132px;top:1079px;width:91px;height:51px;line-height:53px;background:#8DB4E2;color:#FF0000;">28</div>
<div class="c" style="left:3222px;top:1079px;width:89px;height:51px;line-height:53px;background:#00B0F0;"></div>
<div class="c" style="left:3310px;top:1079px;width:92px;height:50px;line-height:53px;">30</div>
<div class="c" style="left:3402px;top:1079px;width:88px;height:50px;line-height:53px;color:#00B050;">31</div>
<div class="c" style="left:792px;top:1129px;width:92px;height:51px;line-height:53px;background:#8DB4E2;color:#00B050;">2</div>
<div class="c" style="left:1061px;top:1129px;width:90px;height:51px;line-height:53px;background:#00B0F0;color:#FFFFFF;">5</div>
<div class="c" style="left:1687px;top:1129px;width:90px;height:51px;line-height:53px;background:#9BBB59;"></div>
<div class="c" style="left:2047px;top:1129px;width:93px;height:50px;line-height:53px;">16</div>
<div class="c" style="left:2412px;top:1129px;width:89px;height:51px;line-height:53px;background:#FFFF00;">20</div>
<div class="c" style="left:2500px;top:1129px;width:90px;height:51px;line-height:53px;background:#D9D9D9;"></div>
<div class="c" style="left:2678px;top:1129px;width:90px;height:50px;line-height:53px;color:#00B050;">23</div>
<div class="c" style="left:2862px;top:1129px;width:92px;height:51px;line-height:53px;background:#FFC000;"></div>
<div class="c" style="left:2953px;top:1129px;width:90px;height:51px;line-height:53px;background:#FFC000;"></div>
<div class="c" style="left:3310px;top:1129px;width:93px;height:51px;line-height:53px;background:#FF0000;">30</div>
<div class="c" style="left:792px;top:1179px;width:92px;height:51px;line-height:53px;background:#FFC000;"></div>
<div class="c" style="left:883px;top:1179px;width:90px;height:51px;line-height:53px;background:#FFC000;"></div>
<div class="c" style="left:972px;top:1179px;width:89px;height:50px;line-height:53px;">4</div>
<div class="c" style="left:1687px;top:1179px;width:90px;height:51px;line-height:53px;background:#00B0F0;"></div>
<div class="c" style="left:2047px;top:1179px;width:94px;height:51px;line-height:53px;background:#FF0000;">16</div>
<div class="c" style="left:2232px;top:1179px;width:91px;height:51px;line-height:53px;background:#FFFF00;">18</div>
<div class="c" style="left:2322px;top:1179px;width:91px;height:51px;line-height:53px;background:#9BBB59;"></div>
<div class="c" style="left:2500px;top:1179px;width:90px;height:51px;line-height:53px;background:#D9D9D9;"></div>
<div class="c" style="left:2768px;top:1179px;width:95px;height:51px;line-height:53px;background:#8DB4E2;">24</div>
<div class="c l jp ar" style="left:2953px;top:1179px;width:90px;height:51px;line-height:53px;background:#9BBB59;">下</div>
<div class="c" style="left:3042px;top:1179px;width:90px;height:50px;line-height:53px;">27</div>
<div class="c" style="left:3402px;top:1179px;width:88px;height:50px;line-height:53px;color:#00B050;">31</div>
<div class="c" style="left:972px;top:1229px;width:90px;height:51px;line-height:53px;background:#FF0000;">4</div>
<div class="c" style="left:2047px;top:1229px;width:94px;height:51px;line-height:53px;background:#FF0000;">16</div>
<div class="c" style="left:2322px;top:1229px;width:91px;height:51px;line-height:53px;background:#00B0F0;"></div>
<div class="c" style="left:2412px;top:1229px;width:88px;height:50px;line-height:53px;">20</div>
<div class="c" style="left:2500px;top:1229px;width:90px;height:51px;line-height:53px;background:#D9D9D9;"></div>
<div class="c" style="left:2862px;top:1229px;width:92px;height:51px;line-height:53px;background:#FFC000;"></div>
<div class="c" style="left:2953px;top:1229px;width:90px;height:51px;line-height:53px;background:#FFC000;color:#FFFF00;">26</div>
<div class="c" style="left:3132px;top:1229px;width:90px;height:50px;line-height:53px;">28</div>
<div class="c" style="left:3222px;top:1229px;width:89px;height:51px;line-height:53px;background:#8DB4E2;color:#00B050;">29</div>
<div class="c" style="left:792px;top:1279px;width:91px;height:50px;line-height:53px;color:#00B050;">2</div>
<div class="c" style="left:883px;top:1279px;width:90px;height:51px;line-height:53px;background:#FFC000;color:#00B050;">3</div>
<div class="c" style="left:972px;top:1279px;width:90px;height:51px;line-height:53px;background:#FFC000;"></div>
<div class="c l jp ar" style="left:1061px;top:1279px;width:90px;height:51px;line-height:53px;background:#9BBB59;">←</div>
<div class="c" style="left:1956px;top:1279px;width:92px;height:51px;line-height:53px;background:#FFFF00;">15</div>
<div class="c" style="left:2412px;top:1279px;width:89px;height:51px;line-height:53px;background:#8DB4E2;color:#FF0000;">20</div>
<div class="c" style="left:2500px;top:1279px;width:90px;height:51px;line-height:53px;background:#D9D9D9;"></div>
<div class="c" style="left:2953px;top:1279px;width:90px;height:51px;line-height:53px;background:#00B0F0;"></div>
<div class="c" style="left:3132px;top:1279px;width:91px;height:51px;line-height:53px;background:#FF0000;">28</div>
<div class="c" style="left:3222px;top:1279px;width:89px;height:51px;line-height:53px;background:#FF0000;color:#00B050;">29</div>
<div class="c l jp ar" style="left:702px;top:1329px;width:91px;height:51px;line-height:53px;background:#00B0F0;">→</div>
<div class="c" style="left:792px;top:1329px;width:92px;height:51px;line-height:53px;background:#FF0000;color:#00B050;">2</div>
<div class="c" style="left:883px;top:1329px;width:90px;height:51px;line-height:53px;background:#FF0000;color:#00B050;">3</div>
<div class="c" style="left:1596px;top:1329px;width:92px;height:51px;line-height:53px;background:#9BBB59;color:#00B050;">11</div>
<div class="c" style="left:1776px;top:1329px;width:93px;height:51px;line-height:53px;background:#FFC000;"></div>
<div class="c" style="left:1868px;top:1329px;width:89px;height:51px;line-height:53px;background:#FFC000;"></div>
<div class="c" style="left:1956px;top:1329px;width:92px;height:51px;line-height:53px;background:#8DB4E2;color:#FF0000;">15</div>
<div class="c" style="left:2500px;top:1329px;width:90px;height:51px;line-height:53px;background:#D9D9D9;"></div>
<div class="c" style="left:2589px;top:1329px;width:89px;height:50px;line-height:53px;">22</div>
<div class="c" style="left:3132px;top:1329px;width:91px;height:51px;line-height:53px;background:#FF0000;">28</div>
<div class="c" style="left:702px;top:1379px;width:91px;height:51px;line-height:53px;background:#FFC000;"></div>
<div class="c" style="left:792px;top:1379px;width:92px;height:51px;line-height:53px;background:#D9D9D9;"></div>
<div class="c" style="left:972px;top:1379px;width:89px;height:50px;line-height:53px;">4</div>
<div class="c" style="left:1150px;top:1379px;width:91px;height:51px;line-height:53px;background:#8DB4E2;color:#FFFF00;">6</div>
<div class="c" style="left:1417px;top:1379px;width:92px;height:51px;line-height:53px;background:#00B0F0;color:#FFFF00;">9</div>
<div class="c" style="left:1508px;top:1379px;width:89px;height:51px;line-height:53px;background:#FFFF00;">10</div>
<div class="c" style="left:2232px;top:1379px;width:91px;height:51px;line-height:53px;background:#9BBB59;"></div>
<div class="c" style="left:2322px;top:1379px;width:91px;height:51px;line-height:53px;background:#FFFF00;color:#00B050;">19</div>
<div class="c" style="left:2500px;top:1379px;width:90px;height:51px;line-height:53px;background:#D9D9D9;"></div>
<div class="c" style="left:3222px;top:1379px;width:88px;height:50px;line-height:53px;color:#00B050;">29</div>
<div class="c" style="left:792px;top:1429px;width:92px;height:51px;line-height:53px;background:#D9D9D9;"></div>
<div class="c" style="left:972px;top:1429px;width:90px;height:51px;line-height:53px;background:#D9D9D9;"></div>
<div class="c" style="left:1061px;top:1429px;width:89px;height:50px;line-height:53px;color:#00B050;">5</div>
<div class="c" style="left:1328px;top:1429px;width:90px;height:51px;line-height:53px;background:#FFFF00;">8</div>
<div class="c" style="left:1508px;top:1429px;width:89px;height:51px;line-height:53px;background:#FF0000;">10</div>
<div class="c" style="left:1596px;top:1429px;width:91px;height:50px;line-height:53px;color:#00B050;">11</div>
<div class="c" style="left:2047px;top:1429px;width:94px;height:51px;line-height:53px;background:#00B0F0;"></div>
<div class="c" style="left:2500px;top:1429px;width:90px;height:51px;line-height:53px;background:#FFC000;"></div>
<div class="c" style="left:2589px;top:1429px;width:90px;height:51px;line-height:53px;background:#FFC000;"></div>
<div class="c" style="left:2862px;top:1429px;width:92px;height:51px;line-height:53px;background:#9BBB59;"></div>
<div class="c" style="left:3042px;top:1429px;width:91px;height:51px;line-height:53px;background:#8DB4E2;">27</div>
<div class="c" style="left:3222px;top:1429px;width:89px;height:51px;line-height:53px;background:#FF0000;color:#00B050;">29</div>
<div class="c" style="left:702px;top:1479px;width:91px;height:51px;line-height:53px;background:#FFC000;"></div>
<div class="c" style="left:792px;top:1479px;width:92px;height:51px;line-height:53px;background:#9BBB59;"></div>
<div class="c" style="left:972px;top:1479px;width:90px;height:51px;line-height:53px;background:#D9D9D9;"></div>
<div class="c" style="left:1061px;top:1479px;width:90px;height:51px;line-height:53px;background:#8DB4E2;color:#FF0000;">5</div>
<div class="c" style="left:1150px;top:1479px;width:91px;height:51px;line-height:53px;background:#FFFF00;">6</div>
<div class="c" style="left:1328px;top:1479px;width:90px;height:51px;line-height:53px;background:#D9D9D9;"></div>
<div class="c" style="left:1596px;top:1479px;width:92px;height:51px;line-height:53px;background:#FF0000;color:#00B050;">11</div>
<div class="c" style="left:1776px;top:1479px;width:93px;height:51px;line-height:53px;background:#FFFF00;color:#00B050;">13</div>
<div class="c" style="left:1868px;top:1479px;width:89px;height:51px;line-height:53px;background:#FFFF00;">14</div>
<div class="c" style="left:2232px;top:1479px;width:90px;height:50px;line-height:53px;">18</div>
<div class="c" style="left:2500px;top:1479px;width:90px;height:51px;line-height:53px;background:#D9D9D9;"></div>
<div class="c" style="left:2678px;top:1479px;width:91px;height:51px;line-height:53px;background:#00B0F0;"></div>
<div class="c" style="left:702px;top:1529px;width:91px;height:51px;line-height:53px;background:#808080;"></div>
<div class="c" style="left:792px;top:1529px;width:92px;height:51px;line-height:53px;background:#8DB4E2;color:#00B050;">2</div>
<div class="c" style="left:883px;top:1529px;width:90px;height:51px;line-height:53px;background:#808080;"></div>
<div class="c" style="left:972px;top:1529px;width:90px;height:51px;line-height:53px;background:#D9D9D9;"></div>
<div class="c" style="left:1061px;top:1529px;width:90px;height:51px;line-height:53px;background:#D9D9D9;"></div>
<div class="c" style="left:1150px;top:1529px;width:91px;height:51px;line-height:53px;background:#808080;"></div>
<div class="c" style="left:1240px;top:1529px;width:89px;height:51px;line-height:53px;background:#808080;"></div>
<div class="c" style="left:1328px;top:1529px;width:90px;height:51px;line-height:53px;background:#D9D9D9;"></div>
<div class="c" style="left:1417px;top:1529px;width:92px;height:51px;line-height:53px;background:#9BBB59;"></div>
<div class="c" style="left:1508px;top:1529px;width:89px;height:51px;line-height:53px;background:#808080;"></div>
<div class="c" style="left:1596px;top:1529px;width:92px;height:51px;line-height:53px;background:#FF0000;color:#00B050;">11</div>
<div class="c" style="left:1776px;top:1529px;width:93px;height:51px;line-height:53px;background:#FF0000;color:#00B050;">13</div>
<div class="c" style="left:1956px;top:1529px;width:92px;height:51px;line-height:53px;background:#FFC000;">15</div>
<div class="c" style="left:2047px;top:1529px;width:94px;height:51px;line-height:53px;background:#FFC000;">16</div>
<div class="c" style="left:2500px;top:1529px;width:90px;height:51px;line-height:53px;background:#D9D9D9;"></div>
<div class="c" style="left:2953px;top:1529px;width:90px;height:51px;line-height:53px;background:#FFFF00;">26</div>
<div class="c" style="left:3310px;top:1529px;width:93px;height:51px;line-height:53px;background:#00B0F0;"></div>
<div class="c" style="left:792px;top:1579px;width:92px;height:51px;line-height:53px;background:#D9D9D9;"></div>
<div class="c" style="left:883px;top:1579px;width:89px;height:50px;line-height:53px;color:#00B050;">3</div>
<div class="c" style="left:972px;top:1579px;width:90px;height:51px;line-height:53px;background:#D9D9D9;"></div>
<div class="c" style="left:1061px;top:1579px;width:90px;height:51px;line-height:53px;background:#D9D9D9;"></div>
<div class="c" style="left:1150px;top:1579px;width:90px;height:50px;line-height:53px;">6</div>
<div class="c" style="left:1240px;top:1579px;width:89px;height:51px;line-height:53px;background:#00B0F0;"></div>
<div class="c" style="left:1328px;top:1579px;width:90px;height:51px;line-height:53px;background:#D9D9D9;"></div>
<div class="c" style="left:1508px;top:1579px;width:88px;height:50px;line-height:53px;">10</div>
<div class="c" style="left:1596px;top:1579px;width:92px;height:51px;line-height:53px;background:#D9D9D9;"></div>
<div class="c" style="left:1956px;top:1579px;width:92px;height:51px;line-height:53px;background:#8DB4E2;color:#FF0000;">15</div>
<div class="c" style="left:2047px;top:1579px;width:94px;height:51px;line-height:53px;background:#9BBB59;"></div>
<div class="c" style="left:2500px;top:1579px;width:90px;height:51px;line-height:53px;background:#D9D9D9;"></div>
<div class="c" style="left:2678px;top:1579px;width:90px;height:50px;line-height:53px;color:#00B050;">23</div>
<div class="c" style="left:3042px;top:1579px;width:91px;height:51px;line-height:53px;background:#FFFF00;">27</div>
<div class="c" style="left:3402px;top:1579px;width:89px;height:51px;line-height:53px;background:#FFC000;"></div>
<div class="c l jp ar" style="left:702px;top:1629px;width:91px;height:51px;line-height:53px;background:#9BBB59;">↓</div>
<div class="c" style="left:792px;top:1629px;width:92px;height:51px;line-height:53px;background:#D9D9D9;"></div>
<div class="c" style="left:972px;top:1629px;width:90px;height:51px;line-height:53px;background:#D9D9D9;"></div>
<div class="c" style="left:1061px;top:1629px;width:90px;height:51px;line-height:53px;background:#8DB4E2;color:#00B050;">5</div>
<div class="c" style="left:1150px;top:1629px;width:91px;height:51px;line-height:53px;background:#FF0000;color:#FFFFFF;">6</div>
<div class="c" style="left:1240px;top:1629px;width:89px;height:51px;line-height:53px;background:#FFFF00;color:#00B050;">7</div>
<div class="c" style="left:1328px;top:1629px;width:90px;height:51px;line-height:53px;background:#D9D9D9;"></div>
<div class="c" style="left:1596px;top:1629px;width:92px;height:51px;line-height:53px;background:#D9D9D9;"></div>
<div class="c" style="left:1868px;top:1629px;width:89px;height:51px;line-height:53px;background:#00B0F0;"></div>
<div class="c" style="left:2047px;top:1629px;width:94px;height:51px;line-height:53px;background:#FFC000;"></div>
<div class="c" style="left:2140px;top:1629px;width:93px;height:51px;line-height:53px;background:#FFC000;"></div>
<div class="c" style="left:2412px;top:1629px;width:89px;height:51px;line-height:53px;background:#FFFF00;">20</div>
<div class="c" style="left:2500px;top:1629px;width:90px;height:51px;line-height:53px;background:#D9D9D9;"></div>
<div class="c" style="left:2589px;top:1629px;width:89px;height:50px;line-height:53px;">22</div>
<div class="c" style="left:2678px;top:1629px;width:91px;height:51px;line-height:53px;background:#9BBB59;"></div>
<div class="c" style="left:2768px;top:1629px;width:95px;height:51px;line-height:53px;background:#FFFF00;">24</div>
<div class="c" style="left:702px;top:1679px;width:91px;height:51px;line-height:53px;background:#FFC000;"></div>
<div class="c" style="left:792px;top:1679px;width:92px;height:51px;line-height:53px;background:#D9D9D9;"></div>
<div class="c" style="left:972px;top:1679px;width:90px;height:51px;line-height:53px;background:#D9D9D9;"></div>
<div class="c" style="left:1061px;top:1679px;width:90px;height:51px;line-height:53px;background:#D9D9D9;"></div>
<div class="c" style="left:1240px;top:1679px;width:89px;height:51px;line-height:53px;background:#FF0000;color:#00B050;">7</div>
<div class="c" style="left:1328px;top:1679px;width:90px;height:51px;line-height:53px;background:#D9D9D9;"></div>
<div class="c" style="left:1417px;top:1679px;width:92px;height:51px;line-height:53px;background:#FFFF00;">9</div>
<div class="c" style="left:1596px;top:1679px;width:92px;height:51px;line-height:53px;background:#D9D9D9;"></div>
<div class="c" style="left:1956px;top:1679px;width:92px;height:51px;line-height:53px;background:#8DB4E2;">15</div>
<div class="c" style="left:2500px;top:1679px;width:90px;height:51px;line-height:53px;background:#00B0F0;color:#FFFF00;">21</div>
<div class="c" style="left:2678px;top:1679px;width:91px;height:51px;line-height:53px;background:#D9D9D9;"></div>
<div class="c" style="left:2862px;top:1679px;width:92px;height:51px;line-height:53px;background:#FFFF00;">25</div>
<div class="c" style="left:3132px;top:1679px;width:90px;height:50px;line-height:53px;">28</div>
<div class="c" style="left:702px;top:1729px;width:91px;height:51px;line-height:53px;background:#FFFF00;">1</div>
<div class="c" style="left:792px;top:1729px;width:92px;height:51px;line-height:53px;background:#D9D9D9;"></div>
<div class="c" style="left:972px;top:1729px;width:90px;height:51px;line-height:53px;background:#D9D9D9;"></div>
<div class="c" style="left:1061px;top:1729px;width:90px;height:51px;line-height:53px;background:#D9D9D9;"></div>
<div class="c" style="left:1150px;top:1729px;width:90px;height:50px;line-height:53px;">6</div>
<div class="c" style="left:1328px;top:1729px;width:90px;height:51px;line-height:53px;background:#9BBB59;"></div>
<div class="c" style="left:1417px;top:1729px;width:92px;height:51px;line-height:53px;background:#D9D9D9;"></div>
<div class="c" style="left:1508px;top:1729px;width:89px;height:51px;line-height:53px;background:#FFC000;"></div>
<div class="c" style="left:1596px;top:1729px;width:92px;height:51px;line-height:53px;background:#FFC000;"></div>
<div class="c" style="left:2500px;top:1729px;width:90px;height:51px;line-height:53px;background:#D9D9D9;"></div>
<div class="c" style="left:2589px;top:1729px;width:89px;height:50px;line-height:53px;">22</div>
<div class="c" style="left:2678px;top:1729px;width:91px;height:51px;line-height:53px;background:#D9D9D9;"></div>
<div class="c" style="left:3042px;top:1729px;width:90px;height:50px;line-height:53px;">27</div>
<div class="c" style="left:3132px;top:1729px;width:91px;height:51px;line-height:53px;background:#8DB4E2;color:#FF0000;">28</div>
<div class="c" style="left:3222px;top:1729px;width:88px;height:50px;line-height:53px;color:#00B050;">29</div>
<div class="c" style="left:702px;top:1779px;width:91px;height:51px;line-height:53px;background:#FF0000;">1</div>
<div class="c" style="left:792px;top:1779px;width:92px;height:51px;line-height:53px;background:#D9D9D9;"></div>
<div class="c" style="left:883px;top:1779px;width:89px;height:50px;line-height:53px;color:#00B050;">3</div>
<div class="c" style="left:972px;top:1779px;width:90px;height:51px;line-height:53px;background:#00B0F0;"></div>
<div class="c" style="left:1061px;top:1779px;width:90px;height:51px;line-height:53px;background:#D9D9D9;"></div>
<div class="c" style="left:1328px;top:1779px;width:90px;height:51px;line-height:53px;background:#D9D9D9;"></div>
<div class="c" style="left:1417px;top:1779px;width:92px;height:51px;line-height:53px;background:#D9D9D9;"></div>
<div class="c l jp ar" style="left:1596px;top:1779px;width:92px;height:51px;line-height:53px;background:#00B0F0;">↓</div>
<div class="c" style="left:1776px;top:1779px;width:93px;height:51px;line-height:53px;background:#8DB4E2;color:#00B050;">13</div>
<div class="c" style="left:1956px;top:1779px;width:92px;height:51px;line-height:53px;background:#9BBB59;">15</div>
<div class="c" style="left:2047px;top:1779px;width:93px;height:50px;line-height:53px;">16</div>
<div class="c" style="left:2412px;top:1779px;width:88px;height:50px;line-height:53px;">20</div>
<div class="c" style="left:2500px;top:1779px;width:90px;height:51px;line-height:53px;background:#D9D9D9;"></div>
<div class="c" style="left:2678px;top:1779px;width:91px;height:51px;line-height:53px;background:#D9D9D9;"></div>
<div class="c" style="left:3132px;top:1779px;width:91px;height:51px;line-height:53px;background:#D9D9D9;"></div>
<div class="c" style="left:3310px;top:1779px;width:93px;height:51px;line-height:53px;background:#FFC000;"></div>
<div class="c" style="left:3402px;top:1779px;width:89px;height:51px;line-height:53px;background:#FFC000;"></div>
<div class="c" style="left:702px;top:1829px;width:895px;height:51px;line-height:53px;background:#808080;"></div>
<div class="c" style="left:1596px;top:1829px;width:92px;height:51px;line-height:53px;background:#FFC000;"></div>
<div class="c" style="left:1687px;top:1829px;width:90px;height:51px;line-height:53px;background:#FFC000;"></div>
<div class="c" style="left:1868px;top:1829px;width:88px;height:50px;line-height:53px;">14</div>
<div class="c" style="left:2232px;top:1829px;width:90px;height:50px;line-height:53px;">18</div>
<div class="c" style="left:2412px;top:1829px;width:89px;height:51px;line-height:53px;background:#FF0000;">20</div>
<div class="c" style="left:2500px;top:1829px;width:90px;height:51px;line-height:53px;background:#D9D9D9;"></div>
<div class="c" style="left:2589px;top:1829px;width:90px;height:51px;line-height:53px;background:#9BBB59;"></div>
<div class="c" style="left:2678px;top:1829px;width:91px;height:51px;line-height:53px;background:#D9D9D9;"></div>
<div class="c" style="left:2768px;top:1829px;width:94px;height:50px;line-height:53px;">24</div>
<div class="c" style="left:3132px;top:1829px;width:91px;height:51px;line-height:53px;background:#D9D9D9;"></div>
<div class="c" style="left:3222px;top:1829px;width:88px;height:50px;line-height:53px;color:#00B050;">29</div>
<div class="c b" style="left:3402px;top:1829px;width:89px;height:51px;line-height:53px;background:#8DB4E2;color:#FFFF00;">31</div>
<div class="c" style="left:792px;top:1879px;width:92px;height:51px;line-height:53px;background:#D9D9D9;"></div>
<div class="c" style="left:972px;top:1879px;width:90px;height:51px;line-height:53px;background:#D9D9D9;"></div>
<div class="c" style="left:1061px;top:1879px;width:90px;height:51px;line-height:53px;background:#D9D9D9;"></div>
<div class="c l jp ar" style="left:1150px;top:1879px;width:91px;height:51px;line-height:53px;background:#9BBB59;">↓</div>
<div class="c" style="left:1328px;top:1879px;width:90px;height:51px;line-height:53px;background:#D9D9D9;"></div>
<div class="c" style="left:1417px;top:1879px;width:92px;height:51px;line-height:53px;background:#D9D9D9;"></div>
<div class="c" style="left:1596px;top:1879px;width:92px;height:51px;line-height:53px;background:#D9D9D9;"></div>
<div class="c" style="left:1956px;top:1879px;width:92px;height:51px;line-height:53px;background:#8DB4E2;">15</div>
<div class="c" style="left:2232px;top:1879px;width:91px;height:51px;line-height:53px;background:#00B0F0;"></div>
<div class="c" style="left:2412px;top:1879px;width:89px;height:51px;line-height:53px;background:#FF0000;">20</div>
<div class="c" style="left:2500px;top:1879px;width:90px;height:51px;line-height:53px;background:#D9D9D9;"></div>
<div class="c" style="left:2678px;top:1879px;width:91px;height:51px;line-height:53px;background:#D9D9D9;"></div>
<div class="c" style="left:2862px;top:1879px;width:91px;height:50px;line-height:53px;">25</div>
<div class="c" style="left:2953px;top:1879px;width:89px;height:50px;line-height:53px;">26</div>
<div class="c" style="left:3042px;top:1879px;width:90px;height:50px;line-height:53px;">27</div>
<div class="c l jp ar" style="left:3132px;top:1879px;width:91px;height:51px;line-height:53px;background:#9BBB59;">→</div>
<div class="c" style="left:3222px;top:1879px;width:89px;height:51px;line-height:53px;background:#FFC000;"></div>
<div class="c" style="left:3310px;top:1879px;width:93px;height:51px;line-height:53px;background:#FFC000;">30</div>
<div class="c" style="left:792px;top:1929px;width:92px;height:51px;line-height:53px;background:#D9D9D9;"></div>
<div class="c" style="left:972px;top:1929px;width:90px;height:51px;line-height:53px;background:#D9D9D9;"></div>
<div class="c" style="left:1061px;top:1929px;width:90px;height:51px;line-height:53px;background:#D9D9D9;"></div>
<div class="c" style="left:1150px;top:1929px;width:91px;height:51px;line-height:53px;background:#FFC000;">6</div>
<div class="c" style="left:1240px;top:1929px;width:89px;height:51px;line-height:53px;background:#FFC000;"></div>
<div class="c" style="left:1328px;top:1929px;width:90px;height:51px;line-height:53px;background:#D9D9D9;"></div>
<div class="c" style="left:1417px;top:1929px;width:92px;height:51px;line-height:53px;background:#D9D9D9;"></div>
<div class="c" style="left:1596px;top:1929px;width:92px;height:51px;line-height:53px;background:#D9D9D9;"></div>
<div class="c" style="left:1687px;top:1929px;width:90px;height:51px;line-height:53px;background:#FFFF00;">12</div>
<div class="c" style="left:1776px;top:1929px;width:93px;height:51px;line-height:53px;background:#FFFF00;color:#00B050;">13</div>
<div class="c" style="left:2140px;top:1929px;width:93px;height:51px;line-height:53px;background:#FFFF00;color:#00B050;">17</div>
<div class="c" style="left:2232px;top:1929px;width:91px;height:51px;line-height:53px;background:#8DB4E2;">18</div>
<div class="c" style="left:2500px;top:1929px;width:90px;height:51px;line-height:53px;background:#D9D9D9;"></div>
<div class="c" style="left:2678px;top:1929px;width:91px;height:51px;line-height:53px;background:#D9D9D9;"></div>
<div class="c" style="left:2862px;top:1929px;width:92px;height:51px;line-height:53px;background:#00B0F0;"></div>
<div class="c" style="left:2953px;top:1929px;width:90px;height:51px;line-height:53px;background:#FF0000;">26</div>
<div class="c" style="left:3132px;top:1929px;width:91px;height:51px;line-height:53px;background:#D9D9D9;"></div>
<div class="c" style="left:792px;top:1979px;width:92px;height:51px;line-height:53px;background:#00B0F0;"></div>
<div class="c" style="left:972px;top:1979px;width:90px;height:51px;line-height:53px;background:#D9D9D9;"></div>
<div class="c" style="left:1061px;top:1979px;width:90px;height:51px;line-height:53px;background:#D9D9D9;"></div>
<div class="c" style="left:1150px;top:1979px;width:91px;height:51px;line-height:53px;background:#FF0000;">6</div>
<div class="c" style="left:1328px;top:1979px;width:90px;height:51px;line-height:53px;background:#D9D9D9;"></div>
<div class="c" style="left:1417px;top:1979px;width:92px;height:51px;line-height:53px;background:#D9D9D9;"></div>
<div class="c" style="left:1596px;top:1979px;width:92px;height:51px;line-height:53px;background:#D9D9D9;"></div>
<div class="c" style="left:1687px;top:1979px;width:90px;height:51px;line-height:53px;background:#FF0000;">12</div>
<div class="c" style="left:1776px;top:1979px;width:93px;height:51px;line-height:53px;background:#9BBB59;"></div>
<div class="c" style="left:2047px;top:1979px;width:93px;height:50px;line-height:53px;">16</div>
<div class="c" style="left:2322px;top:1979px;width:91px;height:51px;line-height:53px;background:#FFFF00;color:#00B050;">19</div>
<div class="c" style="left:2500px;top:1979px;width:363px;height:51px;line-height:53px;background:#808080;"></div>
<div class="c" style="left:2862px;top:1979px;width:92px;height:51px;line-height:53px;background:#8DB4E2;">25</div>
<div class="c" style="left:2953px;top:1979px;width:90px;height:51px;line-height:53px;background:#808080;"></div>
<div class="c" style="left:3042px;top:1979px;width:91px;height:51px;line-height:53px;background:#FFC000;"></div>
<div class="c" style="left:3132px;top:1979px;width:91px;height:51px;line-height:53px;background:#FFC000;"></div>
<div class="c" style="left:3222px;top:1979px;width:181px;height:51px;line-height:53px;background:#808080;"></div>
<div class="c" style="left:3402px;top:1979px;width:89px;height:51px;line-height:53px;background:#FFFF00;color:#00B050;">31</div>
<div class="c" style="left:702px;top:2029px;width:90px;height:50px;line-height:53px;">1</div>
<div class="c" style="left:792px;top:2029px;width:92px;height:51px;line-height:53px;background:#D9D9D9;"></div>
<div class="c" style="left:883px;top:2029px;width:89px;height:50px;line-height:53px;color:#00B050;">3</div>
<div class="c" style="left:972px;top:2029px;width:90px;height:51px;line-height:53px;background:#D9D9D9;"></div>
<div class="c" style="left:1061px;top:2029px;width:90px;height:51px;line-height:53px;background:#D9D9D9;"></div>
<div class="c" style="left:1240px;top:2029px;width:89px;height:51px;line-height:53px;background:#FFC000;"></div>
<div class="c" style="left:1328px;top:2029px;width:90px;height:51px;line-height:53px;background:#FFC000;"></div>
<div class="c" style="left:1417px;top:2029px;width:92px;height:51px;line-height:53px;background:#00B0F0;"></div>
<div class="c" style="left:1508px;top:2029px;width:89px;height:51px;line-height:53px;background:#FFFF00;">10</div>
<div class="c" style="left:1596px;top:2029px;width:92px;height:51px;line-height:53px;background:#D9D9D9;"></div>
<div class="c" style="left:2322px;top:2029px;width:91px;height:51px;line-height:53px;background:#8DB4E2;color:#FF0000;">19</div>
<div class="c" style="left:2412px;top:2029px;width:89px;height:51px;line-height:53px;background:#9BBB59;"></div>
<div class="c" style="left:2500px;top:2029px;width:90px;height:51px;line-height:53px;background:#D9D9D9;"></div>
<div class="c" style="left:2678px;top:2029px;width:91px;height:51px;line-height:53px;background:#D9D9D9;"></div>
<div class="c" style="left:3042px;top:2029px;width:90px;height:50px;line-height:53px;">27</div>
<div class="c" style="left:3132px;top:2029px;width:91px;height:51px;line-height:53px;background:#D9D9D9;"></div>
<div class="c" style="left:3402px;top:2029px;width:89px;height:51px;line-height:53px;background:#FF0000;color:#00B050;">31</div>
<div class="c" style="left:792px;top:2079px;width:92px;height:51px;line-height:53px;background:#D9D9D9;"></div>
<div class="c" style="left:883px;top:2079px;width:90px;height:51px;line-height:53px;background:#FF0000;color:#00B050;">3</div>
<div class="c" style="left:972px;top:2079px;width:90px;height:51px;line-height:53px;background:#D9D9D9;"></div>
<div class="c" style="left:1061px;top:2079px;width:90px;height:51px;line-height:53px;background:#D9D9D9;"></div>
<div class="c" style="left:1328px;top:2079px;width:90px;height:51px;line-height:53px;background:#D9D9D9;"></div>
<div class="c" style="left:1417px;top:2079px;width:92px;height:51px;line-height:53px;background:#D9D9D9;"></div>
<div class="c" style="left:1508px;top:2079px;width:89px;height:51px;line-height:53px;background:#FF0000;">10</div>
<div class="c" style="left:1596px;top:2079px;width:92px;height:51px;line-height:53px;background:#D9D9D9;"></div>
<div class="c" style="left:2047px;top:2079px;width:94px;height:51px;line-height:53px;background:#00B0F0;"></div>
<div class="c" style="left:2412px;top:2079px;width:88px;height:50px;line-height:53px;">20</div>
<div class="c" style="left:2500px;top:2079px;width:90px;height:51px;line-height:53px;background:#D9D9D9;"></div>
<div class="c" style="left:2678px;top:2079px;width:91px;height:51px;line-height:53px;background:#D9D9D9;"></div>
<div class="c" style="left:2768px;top:2079px;width:95px;height:51px;line-height:53px;background:#8DB4E2;">24</div>
<div class="c" style="left:2862px;top:2079px;width:91px;height:50px;line-height:53px;">25</div>
<div class="c" style="left:2953px;top:2079px;width:90px;height:51px;line-height:53px;background:#FFC000;"></div>
<div class="c" style="left:3042px;top:2079px;width:91px;height:51px;line-height:53px;background:#9BBB59;color:#FF0000;">27</div>
<div class="c" style="left:3132px;top:2079px;width:91px;height:51px;line-height:53px;background:#D9D9D9;"></div>
<div class="c" style="left:0px;top:2129px;width:3491px;height:51px;line-height:53px;background:#FFFF00;"></div>
<div class="c" style="left:0px;top:2129px;width:68px;height:50px;line-height:53px;color:#FF0000;">2</div>
<div class="c b" style="left:68px;top:2129px;width:82px;height:50px;line-height:53px;color:#FF0000;">3</div>
<div class="c b big" style="left:150px;top:2129px;width:166px;height:50px;line-height:53px;color:#FF0000;">12/23</div>
<div class="c b big" style="left:316px;top:2129px;width:164px;height:50px;line-height:53px;color:#FF0000;">11/4</div>
<div class="c" style="left:792px;top:2129px;width:92px;height:51px;line-height:53px;background:#FFC000;color:#FF0000;">2</div>
<div class="c b" style="left:883px;top:2129px;width:90px;height:51px;line-height:53px;background:#FFC000;color:#FF0000;">3</div>
<div class="c b" style="left:972px;top:2129px;width:90px;height:51px;line-height:53px;background:#9BBB59;color:#FF0000;">4</div>
<div class="c b" style="left:1061px;top:2129px;width:89px;height:50px;line-height:53px;color:#FF0000;">5</div>
<div class="c b" style="left:1240px;top:2129px;width:89px;height:51px;line-height:53px;background:#FFC000;color:#FF0000;">7</div>
<div class="c" style="left:1328px;top:2129px;width:90px;height:51px;line-height:53px;background:#FFC000;color:#FF0000;">8</div>
<div class="c b" style="left:1508px;top:2129px;width:88px;height:50px;line-height:53px;color:#FF0000;">10</div>
<div class="c b" style="left:2047px;top:2129px;width:94px;height:51px;line-height:53px;background:#00B0F0;color:#FF0000;">16</div>
<div class="c b" style="left:2500px;top:2129px;width:89px;height:50px;line-height:53px;color:#FF0000;">21</div>
<div class="c b" style="left:2678px;top:2129px;width:91px;height:51px;line-height:53px;background:#00B0F0;color:#FF0000;">23</div>
<div class="c b" style="left:2953px;top:2129px;width:90px;height:51px;line-height:53px;background:#FFC000;color:#FF0000;">26</div>
<div class="c" style="left:3042px;top:2129px;width:91px;height:51px;line-height:53px;background:#FFC000;color:#FF0000;">27</div>
<div class="c" style="left:3132px;top:2129px;width:91px;height:51px;line-height:53px;background:#FFC000;color:#FF0000;">28</div>
<div class="c l jp ar" style="left:3042px;top:2179px;width:91px;height:51px;line-height:53px;background:#9BBB59;">↑</div>
<div class="c al" style="left:3490px;top:179px;width:90px;height:50px;line-height:53px;color:#FF0000;">3</div>
<div class="c rb" style="left:3580px;top:179px;width:90px;height:50px;line-height:53px;">1</div>
<div class="c rb" style="left:3670px;top:179px;width:89px;height:50px;line-height:53px;">0</div>
<div class="c rb" style="left:3759px;top:179px;width:87px;height:50px;line-height:53px;">1</div>
<div class="c rb" style="left:3846px;top:179px;width:83px;height:50px;line-height:53px;color:#fff;">3</div>
<div class="c rb aq" style="left:3929px;top:179px;width:84px;height:50px;line-height:53px;">0</div>
<div class="c rb" style="left:4013px;top:179px;width:83px;height:50px;line-height:53px;color:#fff;">1</div>
<div class="c al" style="left:3490px;top:229px;width:90px;height:50px;line-height:53px;color:#FF0000;">2</div>
<div class="c rb" style="left:3580px;top:229px;width:90px;height:50px;line-height:53px;">2</div>
<div class="c rb" style="left:3670px;top:229px;width:89px;height:50px;line-height:53px;">1</div>
<div class="c rb" style="left:3759px;top:229px;width:87px;height:50px;line-height:53px;">1</div>
<div class="c rb" style="left:3846px;top:229px;width:83px;height:50px;line-height:53px;color:#fff;">1</div>
<div class="c rb aq" style="left:3929px;top:229px;width:84px;height:50px;line-height:53px;">1</div>
<div class="c rb" style="left:4013px;top:229px;width:83px;height:50px;line-height:53px;color:#fff;">1</div>
<div class="c al" style="left:3490px;top:279px;width:90px;height:50px;line-height:53px;color:#FF0000;">1</div>
<div class="c rb" style="left:3580px;top:279px;width:90px;height:50px;line-height:53px;">3</div>
<div class="c rb" style="left:3670px;top:279px;width:89px;height:50px;line-height:53px;">2</div>
<div class="c rb" style="left:3759px;top:279px;width:87px;height:50px;line-height:53px;">1</div>
<div class="c rb" style="left:3846px;top:279px;width:83px;height:50px;line-height:53px;color:#fff;">0</div>
<div class="c rb aq" style="left:3929px;top:279px;width:84px;height:50px;line-height:53px;">0</div>
<div class="c rb" style="left:4013px;top:279px;width:83px;height:50px;line-height:53px;color:#fff;">1</div>
<div class="c al" style="left:3490px;top:329px;width:90px;height:50px;line-height:53px;color:#FF0000;">1</div>
<div class="c rb" style="left:3580px;top:329px;width:90px;height:50px;line-height:53px;">1</div>
<div class="c rb" style="left:3670px;top:329px;width:89px;height:50px;line-height:53px;">1</div>
<div class="c rb" style="left:3759px;top:329px;width:87px;height:50px;line-height:53px;">0</div>
<div class="c rb" style="left:3846px;top:329px;width:83px;height:50px;line-height:53px;color:#fff;">0</div>
<div class="c rb aq" style="left:3929px;top:329px;width:85px;height:51px;line-height:53px;background:#00B050;color:#FF0000;">1</div>
<div class="c rb" style="left:4013px;top:329px;width:83px;height:50px;line-height:53px;color:#fff;">2</div>
<div class="c al" style="left:3490px;top:379px;width:90px;height:50px;line-height:53px;color:#FF0000;">3</div>
<div class="c rb" style="left:3580px;top:379px;width:90px;height:50px;line-height:53px;">2</div>
<div class="c rb" style="left:3670px;top:379px;width:89px;height:50px;line-height:53px;">1</div>
<div class="c rb" style="left:3759px;top:379px;width:87px;height:50px;line-height:53px;">1</div>
<div class="c rb" style="left:3846px;top:379px;width:83px;height:50px;line-height:53px;color:#fff;">2</div>
<div class="c rb aq" style="left:3929px;top:379px;width:84px;height:50px;line-height:53px;">0</div>
<div class="c rb" style="left:4013px;top:379px;width:83px;height:50px;line-height:53px;color:#fff;">2</div>
<div class="c al" style="left:3490px;top:429px;width:91px;height:51px;line-height:53px;background:#FF0000;color:#fff;">0</div>
<div class="c rb" style="left:3580px;top:429px;width:90px;height:50px;line-height:53px;">3</div>
<div class="c rb" style="left:3670px;top:429px;width:89px;height:50px;line-height:53px;">3</div>
<div class="c rb" style="left:3759px;top:429px;width:87px;height:50px;line-height:53px;">0</div>
<div class="c rb" style="left:3846px;top:429px;width:83px;height:50px;line-height:53px;color:#fff;">0</div>
<div class="c rb aq" style="left:3929px;top:429px;width:84px;height:50px;line-height:53px;">1</div>
<div class="c rb" style="left:4013px;top:429px;width:83px;height:50px;line-height:53px;color:#fff;">1</div>
<div class="c al" style="left:3490px;top:479px;width:90px;height:50px;line-height:53px;color:#FF0000;">2</div>
<div class="c rb" style="left:3580px;top:479px;width:90px;height:50px;line-height:53px;">3</div>
<div class="c rb" style="left:3670px;top:479px;width:89px;height:50px;line-height:53px;">3</div>
<div class="c rb" style="left:3759px;top:479px;width:87px;height:50px;line-height:53px;">0</div>
<div class="c rb" style="left:3846px;top:479px;width:83px;height:50px;line-height:53px;color:#fff;">1</div>
<div class="c rb aq" style="left:3929px;top:479px;width:84px;height:50px;line-height:53px;">1</div>
<div class="c rb" style="left:4013px;top:479px;width:83px;height:50px;line-height:53px;color:#fff;">2</div>
<div class="c al" style="left:3490px;top:529px;width:90px;height:50px;line-height:53px;color:#FF0000;">2</div>
<div class="c rb" style="left:3580px;top:529px;width:90px;height:50px;line-height:53px;">1</div>
<div class="c rb" style="left:3670px;top:529px;width:89px;height:50px;line-height:53px;">1</div>
<div class="c rb" style="left:3759px;top:529px;width:87px;height:50px;line-height:53px;">0</div>
<div class="c rb" style="left:3846px;top:529px;width:83px;height:50px;line-height:53px;color:#fff;">0</div>
<div class="c rb aq" style="left:3929px;top:529px;width:84px;height:50px;line-height:53px;">0</div>
<div class="c rb" style="left:4013px;top:529px;width:83px;height:50px;line-height:53px;color:#fff;">1</div>
<div class="c al" style="left:3490px;top:579px;width:90px;height:50px;line-height:53px;color:#FF0000;">1</div>
<div class="c rb" style="left:3580px;top:579px;width:90px;height:50px;line-height:53px;">1</div>
<div class="c rb" style="left:3670px;top:579px;width:89px;height:50px;line-height:53px;">0</div>
<div class="c rb" style="left:3759px;top:579px;width:87px;height:50px;line-height:53px;">1</div>
<div class="c rb" style="left:3846px;top:579px;width:83px;height:50px;line-height:53px;color:#fff;">0</div>
<div class="c rb aq" style="left:3929px;top:579px;width:84px;height:50px;line-height:53px;">1</div>
<div class="c rb" style="left:4013px;top:579px;width:83px;height:50px;line-height:53px;color:#fff;">2</div>
<div class="c al" style="left:3490px;top:629px;width:91px;height:51px;line-height:53px;background:#FF0000;color:#fff;">0</div>
<div class="c rb" style="left:3580px;top:629px;width:90px;height:50px;line-height:53px;">0</div>
<div class="c rb" style="left:3670px;top:629px;width:89px;height:50px;line-height:53px;">0</div>
<div class="c rb" style="left:3759px;top:629px;width:87px;height:50px;line-height:53px;">0</div>
<div class="c rb" style="left:3846px;top:629px;width:83px;height:50px;line-height:53px;color:#fff;">0</div>
<div class="c rb aq" style="left:3929px;top:629px;width:84px;height:50px;line-height:53px;">1</div>
<div class="c rb" style="left:4013px;top:629px;width:83px;height:50px;line-height:53px;color:#fff;">1</div>
<div class="c al" style="left:3490px;top:679px;width:91px;height:51px;line-height:53px;background:#FF0000;color:#fff;">0</div>
<div class="c rb" style="left:3580px;top:679px;width:90px;height:50px;line-height:53px;">1</div>
<div class="c rb" style="left:3670px;top:679px;width:89px;height:50px;line-height:53px;">1</div>
<div class="c rb" style="left:3759px;top:679px;width:87px;height:50px;line-height:53px;">0</div>
<div class="c rb" style="left:3846px;top:679px;width:83px;height:50px;line-height:53px;color:#fff;">2</div>
<div class="c rb aq" style="left:3929px;top:679px;width:85px;height:51px;line-height:53px;background:#00B050;color:#FF0000;">1</div>
<div class="c rb" style="left:4013px;top:679px;width:83px;height:50px;line-height:53px;color:#fff;">4</div>
<div class="c al" style="left:3490px;top:729px;width:90px;height:50px;line-height:53px;color:#FF0000;">2</div>
<div class="c rb" style="left:3580px;top:729px;width:90px;height:50px;line-height:53px;">0</div>
<div class="c rb" style="left:3670px;top:729px;width:89px;height:50px;line-height:53px;">0</div>
<div class="c rb" style="left:3759px;top:729px;width:87px;height:50px;line-height:53px;">0</div>
<div class="c rb" style="left:3846px;top:729px;width:83px;height:50px;line-height:53px;color:#fff;">1</div>
<div class="c rb aq" style="left:3929px;top:729px;width:84px;height:50px;line-height:53px;">1</div>
<div class="c rb" style="left:4013px;top:729px;width:83px;height:50px;line-height:53px;color:#fff;">2</div>
<div class="c al" style="left:3490px;top:779px;width:90px;height:50px;line-height:53px;color:#FF0000;">1</div>
<div class="c rb" style="left:3580px;top:779px;width:90px;height:50px;line-height:53px;">2</div>
<div class="c rb" style="left:3670px;top:779px;width:89px;height:50px;line-height:53px;">2</div>
<div class="c rb" style="left:3759px;top:779px;width:87px;height:50px;line-height:53px;">0</div>
<div class="c rb" style="left:3846px;top:779px;width:83px;height:50px;line-height:53px;color:#fff;">2</div>
<div class="c rb aq" style="left:3929px;top:779px;width:84px;height:50px;line-height:53px;">2</div>
<div class="c rb" style="left:4013px;top:779px;width:83px;height:50px;line-height:53px;color:#fff;">2</div>
<div class="c al" style="left:3490px;top:829px;width:90px;height:50px;line-height:53px;color:#FF0000;">1</div>
<div class="c rb" style="left:3580px;top:829px;width:90px;height:50px;line-height:53px;">0</div>
<div class="c rb" style="left:3670px;top:829px;width:89px;height:50px;line-height:53px;">0</div>
<div class="c rb" style="left:3759px;top:829px;width:87px;height:50px;line-height:53px;">0</div>
<div class="c rb" style="left:3846px;top:829px;width:83px;height:50px;line-height:53px;color:#fff;">1</div>
<div class="c rb aq" style="left:3929px;top:829px;width:84px;height:50px;line-height:53px;">0</div>
<div class="c rb" style="left:4013px;top:829px;width:83px;height:50px;line-height:53px;color:#fff;">1</div>
<div class="c al" style="left:3490px;top:879px;width:90px;height:50px;line-height:53px;color:#FF0000;">1</div>
<div class="c rb" style="left:3580px;top:879px;width:90px;height:50px;line-height:53px;">2</div>
<div class="c rb" style="left:3670px;top:879px;width:89px;height:50px;line-height:53px;">2</div>
<div class="c rb" style="left:3759px;top:879px;width:87px;height:50px;line-height:53px;">0</div>
<div class="c rb" style="left:3846px;top:879px;width:83px;height:50px;line-height:53px;color:#fff;">1</div>
<div class="c rb aq" style="left:3929px;top:879px;width:84px;height:50px;line-height:53px;">0</div>
<div class="c rb" style="left:4013px;top:879px;width:83px;height:50px;line-height:53px;color:#fff;">1</div>
<div class="c al" style="left:3490px;top:929px;width:91px;height:51px;line-height:53px;background:#FF0000;color:#fff;">0</div>
<div class="c rb" style="left:3580px;top:929px;width:90px;height:50px;line-height:53px;">2</div>
<div class="c rb" style="left:3670px;top:929px;width:89px;height:50px;line-height:53px;">2</div>
<div class="c rb" style="left:3759px;top:929px;width:87px;height:50px;line-height:53px;">0</div>
<div class="c rb" style="left:3846px;top:929px;width:83px;height:50px;line-height:53px;color:#fff;">0</div>
<div class="c rb aq" style="left:3929px;top:929px;width:85px;height:51px;line-height:53px;background:#00B050;color:#FF0000;">1</div>
<div class="c rb" style="left:4013px;top:929px;width:83px;height:50px;line-height:53px;color:#fff;">3</div>
<div class="c al" style="left:3490px;top:979px;width:90px;height:50px;line-height:53px;color:#FF0000;">2</div>
<div class="c rb" style="left:3580px;top:979px;width:90px;height:50px;line-height:53px;">3</div>
<div class="c rb" style="left:3670px;top:979px;width:89px;height:50px;line-height:53px;">1</div>
<div class="c rb" style="left:3759px;top:979px;width:87px;height:50px;line-height:53px;">2</div>
<div class="c rb" style="left:3846px;top:979px;width:83px;height:50px;line-height:53px;color:#fff;">1</div>
<div class="c rb aq" style="left:3929px;top:979px;width:84px;height:50px;line-height:53px;">0</div>
<div class="c rb" style="left:4013px;top:979px;width:83px;height:50px;line-height:53px;color:#fff;">2</div>
<div class="c al" style="left:3490px;top:1029px;width:90px;height:50px;line-height:53px;color:#FF0000;">1</div>
<div class="c rb" style="left:3580px;top:1029px;width:90px;height:50px;line-height:53px;">1</div>
<div class="c rb" style="left:3670px;top:1029px;width:89px;height:50px;line-height:53px;">1</div>
<div class="c rb" style="left:3759px;top:1029px;width:87px;height:50px;line-height:53px;">0</div>
<div class="c rb" style="left:3846px;top:1029px;width:83px;height:50px;line-height:53px;color:#fff;">0</div>
<div class="c rb aq" style="left:3929px;top:1029px;width:84px;height:50px;line-height:53px;">0</div>
<div class="c rb" style="left:4013px;top:1029px;width:83px;height:50px;line-height:53px;color:#fff;">1</div>
<div class="c al" style="left:3490px;top:1079px;width:90px;height:50px;line-height:53px;color:#FF0000;">2</div>
<div class="c rb" style="left:3580px;top:1079px;width:90px;height:50px;line-height:53px;">2</div>
<div class="c rb" style="left:3670px;top:1079px;width:89px;height:50px;line-height:53px;">2</div>
<div class="c rb" style="left:3759px;top:1079px;width:87px;height:50px;line-height:53px;">0</div>
<div class="c rb" style="left:3846px;top:1079px;width:83px;height:50px;line-height:53px;color:#fff;">0</div>
<div class="c rb aq" style="left:3929px;top:1079px;width:84px;height:50px;line-height:53px;">1</div>
<div class="c rb" style="left:4013px;top:1079px;width:83px;height:50px;line-height:53px;color:#fff;">3</div>
<div class="c al" style="left:3490px;top:1129px;width:90px;height:50px;line-height:53px;color:#FF0000;">1</div>
<div class="c rb" style="left:3580px;top:1129px;width:90px;height:50px;line-height:53px;">1</div>
<div class="c rb" style="left:3670px;top:1129px;width:89px;height:50px;line-height:53px;">1</div>
<div class="c rb" style="left:3759px;top:1129px;width:87px;height:50px;line-height:53px;">0</div>
<div class="c rb" style="left:3846px;top:1129px;width:83px;height:50px;line-height:53px;color:#fff;">1</div>
<div class="c rb aq" style="left:3929px;top:1129px;width:85px;height:51px;line-height:53px;background:#00B050;">1</div>
<div class="c rb" style="left:4013px;top:1129px;width:83px;height:50px;line-height:53px;color:#fff;">2</div>
<div class="c al" style="left:3490px;top:1179px;width:90px;height:50px;line-height:53px;color:#FF0000;">2</div>
<div class="c rb" style="left:3580px;top:1179px;width:90px;height:50px;line-height:53px;">1</div>
<div class="c rb" style="left:3670px;top:1179px;width:89px;height:50px;line-height:53px;">0</div>
<div class="c rb" style="left:3759px;top:1179px;width:87px;height:50px;line-height:53px;">1</div>
<div class="c rb" style="left:3846px;top:1179px;width:83px;height:50px;line-height:53px;color:#fff;">1</div>
<div class="c rb aq" style="left:3929px;top:1179px;width:84px;height:50px;line-height:53px;">1</div>
<div class="c rb" style="left:4013px;top:1179px;width:83px;height:50px;line-height:53px;color:#fff;">1</div>
<div class="c al" style="left:3490px;top:1229px;width:90px;height:50px;line-height:53px;color:#FF0000;">2</div>
<div class="c rb" style="left:3580px;top:1229px;width:90px;height:50px;line-height:53px;">0</div>
<div class="c rb" style="left:3670px;top:1229px;width:89px;height:50px;line-height:53px;">0</div>
<div class="c rb" style="left:3759px;top:1229px;width:87px;height:50px;line-height:53px;">0</div>
<div class="c rb" style="left:3846px;top:1229px;width:83px;height:50px;line-height:53px;color:#fff;">2</div>
<div class="c rb aq" style="left:3929px;top:1229px;width:84px;height:50px;line-height:53px;">2</div>
<div class="c rb" style="left:4013px;top:1229px;width:83px;height:50px;line-height:53px;color:#fff;">0</div>
<div class="c al" style="left:3490px;top:1279px;width:90px;height:50px;line-height:53px;color:#FF0000;">2</div>
<div class="c rb" style="left:3580px;top:1279px;width:90px;height:50px;line-height:53px;">1</div>
<div class="c rb" style="left:3670px;top:1279px;width:89px;height:50px;line-height:53px;">0</div>
<div class="c rb" style="left:3759px;top:1279px;width:87px;height:50px;line-height:53px;">0</div>
<div class="c rb" style="left:3846px;top:1279px;width:83px;height:50px;line-height:53px;color:#fff;">2</div>
<div class="c rb aq" style="left:3929px;top:1279px;width:84px;height:50px;line-height:53px;">0</div>
<div class="c rb" style="left:4013px;top:1279px;width:83px;height:50px;line-height:53px;color:#fff;">3</div>
<div class="c al" style="left:3490px;top:1329px;width:90px;height:50px;line-height:53px;color:#FF0000;">1</div>
<div class="c rb" style="left:3580px;top:1329px;width:90px;height:50px;line-height:53px;">0</div>
<div class="c rb" style="left:3670px;top:1329px;width:89px;height:50px;line-height:53px;">0</div>
<div class="c rb" style="left:3759px;top:1329px;width:87px;height:50px;line-height:53px;">0</div>
<div class="c rb" style="left:3846px;top:1329px;width:83px;height:50px;line-height:53px;color:#fff;">3</div>
<div class="c rb aq" style="left:3929px;top:1329px;width:84px;height:50px;line-height:53px;">1</div>
<div class="c rb" style="left:4013px;top:1329px;width:83px;height:50px;line-height:53px;color:#fff;">3</div>
<div class="c al" style="left:3490px;top:1379px;width:90px;height:50px;line-height:53px;color:#FF0000;">1</div>
<div class="c rb" style="left:3580px;top:1379px;width:90px;height:50px;line-height:53px;">2</div>
<div class="c rb" style="left:3670px;top:1379px;width:89px;height:50px;line-height:53px;">2</div>
<div class="c rb" style="left:3759px;top:1379px;width:87px;height:50px;line-height:53px;">0</div>
<div class="c rb" style="left:3846px;top:1379px;width:83px;height:50px;line-height:53px;color:#fff;">0</div>
<div class="c rb aq" style="left:3929px;top:1379px;width:85px;height:51px;line-height:53px;background:#00B050;color:#FF0000;">1</div>
<div class="c rb" style="left:4013px;top:1379px;width:83px;height:50px;line-height:53px;color:#fff;">2</div>
<div class="c al" style="left:3490px;top:1429px;width:90px;height:50px;line-height:53px;color:#FF0000;">1</div>
<div class="c rb" style="left:3580px;top:1429px;width:90px;height:50px;line-height:53px;">1</div>
<div class="c rb" style="left:3670px;top:1429px;width:89px;height:50px;line-height:53px;">1</div>
<div class="c rb" style="left:3759px;top:1429px;width:87px;height:50px;line-height:53px;">0</div>
<div class="c rb" style="left:3846px;top:1429px;width:83px;height:50px;line-height:53px;color:#fff;">2</div>
<div class="c rb aq" style="left:3929px;top:1429px;width:84px;height:50px;line-height:53px;">0</div>
<div class="c rb" style="left:4013px;top:1429px;width:83px;height:50px;line-height:53px;color:#fff;">3</div>
<div class="c al" style="left:3490px;top:1479px;width:91px;height:51px;line-height:53px;background:#FF0000;color:#fff;">0</div>
<div class="c rb" style="left:3580px;top:1479px;width:90px;height:50px;line-height:53px;">3</div>
<div class="c rb" style="left:3670px;top:1479px;width:89px;height:50px;line-height:53px;">3</div>
<div class="c rb" style="left:3759px;top:1479px;width:87px;height:50px;line-height:53px;">0</div>
<div class="c rb" style="left:3846px;top:1479px;width:83px;height:50px;line-height:53px;color:#fff;">1</div>
<div class="c rb aq" style="left:3929px;top:1479px;width:84px;height:50px;line-height:53px;">1</div>
<div class="c rb" style="left:4013px;top:1479px;width:83px;height:50px;line-height:53px;color:#fff;">2</div>
<div class="c al" style="left:3490px;top:1529px;width:90px;height:50px;line-height:53px;color:#FF0000;">1</div>
<div class="c rb" style="left:3580px;top:1529px;width:90px;height:50px;line-height:53px;">1</div>
<div class="c rb" style="left:3670px;top:1529px;width:89px;height:50px;line-height:53px;">0</div>
<div class="c rb" style="left:3759px;top:1529px;width:87px;height:50px;line-height:53px;">1</div>
<div class="c rb" style="left:3846px;top:1529px;width:83px;height:50px;line-height:53px;color:#fff;">2</div>
<div class="c rb aq" style="left:3929px;top:1529px;width:85px;height:51px;line-height:53px;background:#00B050;">1</div>
<div class="c rb" style="left:4013px;top:1529px;width:83px;height:50px;line-height:53px;color:#fff;">2</div>
<div class="c al" style="left:3490px;top:1579px;width:90px;height:50px;line-height:53px;color:#FF0000;">1</div>
<div class="c rb" style="left:3580px;top:1579px;width:90px;height:50px;line-height:53px;">1</div>
<div class="c rb" style="left:3670px;top:1579px;width:89px;height:50px;line-height:53px;">0</div>
<div class="c rb" style="left:3759px;top:1579px;width:87px;height:50px;line-height:53px;">1</div>
<div class="c rb" style="left:3846px;top:1579px;width:83px;height:50px;line-height:53px;color:#fff;">0</div>
<div class="c rb aq" style="left:3929px;top:1579px;width:84px;height:50px;line-height:53px;">1</div>
<div class="c rb" style="left:4013px;top:1579px;width:83px;height:50px;line-height:53px;color:#fff;">2</div>
<div class="c al" style="left:3490px;top:1629px;width:91px;height:51px;line-height:53px;background:#FF0000;color:#fff;">0</div>
<div class="c rb" style="left:3580px;top:1629px;width:90px;height:50px;line-height:53px;">3</div>
<div class="c rb" style="left:3670px;top:1629px;width:89px;height:50px;line-height:53px;">3</div>
<div class="c rb" style="left:3759px;top:1629px;width:87px;height:50px;line-height:53px;">0</div>
<div class="c rb" style="left:3846px;top:1629px;width:83px;height:50px;line-height:53px;color:#fff;">1</div>
<div class="c rb aq" style="left:3929px;top:1629px;width:84px;height:50px;line-height:53px;">0</div>
<div class="c rb" style="left:4013px;top:1629px;width:83px;height:50px;line-height:53px;color:#fff;">1</div>
<div class="c al" style="left:3490px;top:1679px;width:90px;height:50px;line-height:53px;color:#FF0000;">1</div>
<div class="c rb" style="left:3580px;top:1679px;width:90px;height:50px;line-height:53px;">2</div>
<div class="c rb" style="left:3670px;top:1679px;width:89px;height:50px;line-height:53px;">2</div>
<div class="c rb" style="left:3759px;top:1679px;width:87px;height:50px;line-height:53px;">0</div>
<div class="c rb" style="left:3846px;top:1679px;width:83px;height:50px;line-height:53px;color:#fff;">1</div>
<div class="c rb aq" style="left:3929px;top:1679px;width:84px;height:50px;line-height:53px;">0</div>
<div class="c rb" style="left:4013px;top:1679px;width:83px;height:50px;line-height:53px;color:#fff;">1</div>
<div class="c al" style="left:3490px;top:1729px;width:90px;height:50px;line-height:53px;color:#FF0000;">2</div>
<div class="c rb" style="left:3580px;top:1729px;width:90px;height:50px;line-height:53px;">1</div>
<div class="c rb" style="left:3670px;top:1729px;width:89px;height:50px;line-height:53px;">0</div>
<div class="c rb" style="left:3759px;top:1729px;width:87px;height:50px;line-height:53px;">0</div>
<div class="c rb" style="left:3846px;top:1729px;width:83px;height:50px;line-height:53px;color:#fff;">0</div>
<div class="c rb aq" style="left:3929px;top:1729px;width:84px;height:50px;line-height:53px;">2</div>
<div class="c rb" style="left:4013px;top:1729px;width:83px;height:50px;line-height:53px;color:#fff;">1</div>
<div class="c al" style="left:3490px;top:1779px;width:91px;height:51px;line-height:53px;background:#FF0000;color:#fff;">0</div>
<div class="c rb" style="left:3580px;top:1779px;width:90px;height:50px;line-height:53px;">0</div>
<div class="c rb" style="left:3670px;top:1779px;width:89px;height:50px;line-height:53px;">0</div>
<div class="c rb" style="left:3759px;top:1779px;width:87px;height:50px;line-height:53px;">0</div>
<div class="c rb" style="left:3846px;top:1779px;width:83px;height:50px;line-height:53px;color:#fff;">1</div>
<div class="c rb aq" style="left:3929px;top:1779px;width:84px;height:50px;line-height:53px;">1</div>
<div class="c rb" style="left:4013px;top:1779px;width:83px;height:50px;line-height:53px;color:#fff;">1</div>
<div class="c al" style="left:3490px;top:1829px;width:90px;height:50px;line-height:53px;color:#FF0000;">1</div>
<div class="c rb" style="left:3580px;top:1829px;width:90px;height:50px;line-height:53px;">0</div>
<div class="c rb" style="left:3670px;top:1829px;width:89px;height:50px;line-height:53px;">0</div>
<div class="c rb" style="left:3759px;top:1829px;width:87px;height:50px;line-height:53px;">0</div>
<div class="c rb" style="left:3846px;top:1829px;width:83px;height:50px;line-height:53px;color:#fff;">1</div>
<div class="c rb aq" style="left:3929px;top:1829px;width:85px;height:51px;line-height:53px;background:#00B050;color:#FF0000;">1</div>
<div class="c rb" style="left:4013px;top:1829px;width:83px;height:50px;line-height:53px;color:#fff;">1</div>
<div class="c al" style="left:3490px;top:1879px;width:90px;height:50px;line-height:53px;color:#FF0000;">3</div>
<div class="c rb" style="left:3580px;top:1879px;width:90px;height:50px;line-height:53px;">1</div>
<div class="c rb" style="left:3670px;top:1879px;width:89px;height:50px;line-height:53px;">0</div>
<div class="c rb" style="left:3759px;top:1879px;width:87px;height:50px;line-height:53px;">1</div>
<div class="c rb" style="left:3846px;top:1879px;width:83px;height:50px;line-height:53px;color:#fff;">1</div>
<div class="c rb aq" style="left:3929px;top:1879px;width:84px;height:50px;line-height:53px;">1</div>
<div class="c rb" style="left:4013px;top:1879px;width:83px;height:50px;line-height:53px;color:#fff;">0</div>
<div class="c al" style="left:3490px;top:1929px;width:90px;height:50px;line-height:53px;color:#FF0000;">1</div>
<div class="c rb" style="left:3580px;top:1929px;width:90px;height:50px;line-height:53px;">3</div>
<div class="c rb" style="left:3670px;top:1929px;width:89px;height:50px;line-height:53px;">3</div>
<div class="c rb" style="left:3759px;top:1929px;width:87px;height:50px;line-height:53px;">0</div>
<div class="c rb" style="left:3846px;top:1929px;width:83px;height:50px;line-height:53px;color:#fff;">1</div>
<div class="c rb aq" style="left:3929px;top:1929px;width:84px;height:50px;line-height:53px;">0</div>
<div class="c rb" style="left:4013px;top:1929px;width:83px;height:50px;line-height:53px;color:#fff;">2</div>
<div class="c al" style="left:3490px;top:1979px;width:90px;height:50px;line-height:53px;color:#FF0000;">1</div>
<div class="c rb" style="left:3580px;top:1979px;width:90px;height:50px;line-height:53px;">2</div>
<div class="c rb" style="left:3670px;top:1979px;width:89px;height:50px;line-height:53px;">1</div>
<div class="c rb" style="left:3759px;top:1979px;width:87px;height:50px;line-height:53px;">1</div>
<div class="c rb" style="left:3846px;top:1979px;width:83px;height:50px;line-height:53px;color:#fff;">2</div>
<div class="c rb aq" style="left:3929px;top:1979px;width:84px;height:50px;line-height:53px;">0</div>
<div class="c rb" style="left:4013px;top:1979px;width:83px;height:50px;line-height:53px;color:#fff;">2</div>
<div class="c rb" style="left:3580px;top:2029px;width:90px;height:50px;line-height:53px;">1</div>
<div class="c rb" style="left:3670px;top:2029px;width:89px;height:50px;line-height:53px;">1</div>
<div class="c rb" style="left:3759px;top:2029px;width:87px;height:50px;line-height:53px;">0</div>
<div class="c rb" style="left:3846px;top:2029px;width:83px;height:50px;line-height:53px;color:#fff;">1</div>
<div class="c rb aq" style="left:3929px;top:2029px;width:84px;height:50px;line-height:53px;">0</div>
<div class="c rb" style="left:4013px;top:2029px;width:83px;height:50px;line-height:53px;color:#fff;">2</div>
<div class="c rb" style="left:3580px;top:2079px;width:90px;height:50px;line-height:53px;">0</div>
<div class="c rb" style="left:3670px;top:2079px;width:89px;height:50px;line-height:53px;">0</div>
<div class="c rb" style="left:3759px;top:2079px;width:87px;height:50px;line-height:53px;">0</div>
<div class="c rb" style="left:3846px;top:2079px;width:83px;height:50px;line-height:53px;color:#fff;">3</div>
<div class="c rb aq" style="left:3929px;top:2079px;width:84px;height:50px;line-height:53px;">1</div>
<div class="c rb" style="left:4013px;top:2079px;width:83px;height:50px;line-height:53px;color:#fff;">1</div>
<div class="sl" style="left:313px;top:80px;width:5px;height:2181px;background:#707070"></div>
<div class="sl" style="left:478px;top:80px;width:5px;height:2181px;background:#707070"></div>
<div class="sl" style="left:560px;top:80px;width:5px;height:2181px;background:#111"></div>
<div class="sl" style="left:700px;top:80px;width:5px;height:2181px;background:#111"></div>
<div class="sl" style="left:970px;top:180px;width:5px;height:2081px;background:#000"></div>
<div class="sl" style="left:1237px;top:80px;width:7px;height:2181px;background:#000"></div>
<div class="sl" style="left:1505px;top:180px;width:5px;height:2081px;background:#000"></div>
<div class="sl" style="left:1772px;top:80px;width:7px;height:2181px;background:#000"></div>
<div class="sl" style="left:2319px;top:80px;width:7px;height:2181px;background:#000"></div>
<div class="sl" style="left:2587px;top:180px;width:5px;height:2081px;background:#000"></div>
<div class="sl" style="left:2858px;top:80px;width:7px;height:2181px;background:#000"></div>
<div class="sl" style="left:3130px;top:180px;width:5px;height:2081px;background:#000"></div>
<div class="sl" style="left:3488px;top:80px;width:5px;height:2181px;background:#000"></div>
<div class="sl" style="left:3578px;top:80px;width:4px;height:2181px;background:#000"></div>
<div class="sl" style="left:2045px;top:132px;width:5px;height:2129px;background:#FF0000"></div>
<div class="sl" style="left:2950px;top:180px;width:6px;height:2081px;background:#00B050"></div>
<div class="sl" style="left:3400px;top:136px;width:4px;height:40px;background:#000"></div>
<div class="sl" style="left:3927px;top:128px;width:4px;height:52px;background:#000"></div>
<div class="sl" style="left:4008px;top:80px;width:6px;height:2181px;background:#3f7f3a"></div>
<div class="sl" style="left:3580px;top:177px;width:516px;height:4px;background:#7a7a7a"></div>
<div class="sl" style="left:0px;top:177px;width:702px;height:4px;background:#7a7a7a"></div>
<div id="hd"></div>
<div class="ch" style="left:0px;width:68px">A</div>
<div class="cs" style="left:66px"></div>
<div class="ch" style="left:68px;width:82px">B</div>
<div class="cs" style="left:148px"></div>
<div class="ch" style="left:150px;width:166px">C</div>
<div class="cs" style="left:314px"></div>
<div class="ch" style="left:316px;width:164px">D</div>
<div class="cs" style="left:478px"></div>
<div class="ch" style="left:480px;width:82px">E</div>
<div class="cs" style="left:560px"></div>
<div class="ch" style="left:562px;width:140px">F</div>
<div class="cs" style="left:700px"></div>
<div class="ch" style="left:702px;width:90px">G</div>
<div class="cs" style="left:790px"></div>
<div class="ch" style="left:792px;width:90px">H</div>
<div class="cs" style="left:881px"></div>
<div class="ch" style="left:883px;width:90px">I</div>
<div class="cs" style="left:970px"></div>
<div class="ch" style="left:972px;width:89px">J</div>
<div class="cs" style="left:1059px"></div>
<div class="ch" style="left:1061px;width:89px">K</div>
<div class="cs" style="left:1148px"></div>
<div class="ch" style="left:1150px;width:90px">L</div>
<div class="cs" style="left:1238px"></div>
<div class="ch" style="left:1240px;width:88px">M</div>
<div class="cs" style="left:1326px"></div>
<div class="ch" style="left:1328px;width:89px">N</div>
<div class="cs" style="left:1415px"></div>
<div class="ch" style="left:1417px;width:91px">O</div>
<div class="cs" style="left:1506px"></div>
<div class="ch" style="left:1508px;width:88px">P</div>
<div class="cs" style="left:1594px"></div>
<div class="ch" style="left:1596px;width:90px">Q</div>
<div class="cs" style="left:1685px"></div>
<div class="ch" style="left:1687px;width:89px">R</div>
<div class="cs" style="left:1774px"></div>
<div class="ch" style="left:1776px;width:92px">S</div>
<div class="cs" style="left:1866px"></div>
<div class="ch" style="left:1868px;width:89px">T</div>
<div class="cs" style="left:1954px"></div>
<div class="ch" style="left:1956px;width:91px">U</div>
<div class="cs" style="left:2045px"></div>
<div class="ch" style="left:2047px;width:93px">V</div>
<div class="cs" style="left:2138px"></div>
<div class="ch" style="left:2140px;width:92px">W</div>
<div class="cs" style="left:2230px"></div>
<div class="ch" style="left:2232px;width:90px">X</div>
<div class="cs" style="left:2320px"></div>
<div class="ch" style="left:2322px;width:90px">Y</div>
<div class="cs" style="left:2410px"></div>
<div class="ch" style="left:2412px;width:88px">Z</div>
<div class="cs" style="left:2498px"></div>
<div class="ch" style="left:2500px;width:89px">AA</div>
<div class="cs" style="left:2587px"></div>
<div class="ch" style="left:2589px;width:88px">AB</div>
<div class="cs" style="left:2676px"></div>
<div class="ch" style="left:2678px;width:90px">AC</div>
<div class="cs" style="left:2766px"></div>
<div class="ch" style="left:2768px;width:94px">AD</div>
<div class="cs" style="left:2860px"></div>
<div class="ch" style="left:2862px;width:91px">AE</div>
<div class="cs" style="left:2951px"></div>
<div class="ch" style="left:2953px;width:89px">AF</div>
<div class="cs" style="left:3040px"></div>
<div class="ch" style="left:3042px;width:91px">AG</div>
<div class="cs" style="left:3130px"></div>
<div class="ch" style="left:3132px;width:89px">AH</div>
<div class="cs" style="left:3220px"></div>
<div class="ch" style="left:3222px;width:88px">AI</div>
<div class="cs" style="left:3308px"></div>
<div class="ch" style="left:3310px;width:92px">AJ</div>
<div class="cs" style="left:3400px"></div>
<div class="ch" style="left:3402px;width:88px">AK</div>
<div class="cs" style="left:3488px"></div>
<div class="ch" style="left:3490px;width:90px">AL</div>
<div class="cs" style="left:3578px"></div>
<div class="ch" style="left:3580px;width:90px">AM</div>
<div class="cs" style="left:3668px"></div>
<div class="ch" style="left:3670px;width:89px">AN</div>
<div class="cs" style="left:3757px"></div>
<div class="ch" style="left:3759px;width:87px">AO</div>
<div class="cs" style="left:3844px"></div>
<div class="ch" style="left:3846px;width:83px">AP</div>
<div class="cs" style="left:3927px"></div>
<div class="ch" style="left:3929px;width:84px">AQ</div>
<div class="cs" style="left:4011px"></div>
<div class="ch" style="left:4013px;width:83px">AR</div>
<div id="tb">
<div class="tab" style="left:232px">Sheet4</div>
<div class="tab" style="left:456px;letter-spacing:-10px">ロト6</div>
<div class="tab" style="left:684px">Sheet5</div>
<div class="tab" style="left:904px">月曜</div>
<div class="tab" style="left:1124px">Sheet2</div>
<div class="tab" style="left:1340px">木曜</div>
<div class="tab" style="left:1540px">roto7</div>
<div class="tsep" style="left:264px"></div>
<div class="tsep" style="left:527px"></div>
<div class="tsep" style="left:716px"></div>
<div class="tsep" style="left:975px"></div>
<div class="tsep" style="left:1154px"></div>
<div class="tsep" style="left:1416px"></div>
<div class="tsep" style="left:1594px"></div>
<div style="position:absolute;left:1812px;top:-4px;width:156px;height:88px;background:#fff;border-bottom:8px solid #217346;box-sizing:border-box;text-align:center;line-height:88px;color:#217346;letter-spacing:-12px;text-indent:-12px">ミニ</div>
<div class="tab" style="left:1976px;width:160px">She</div>
<div style="position:absolute;left:2132px;top:16px;color:#217346;font-weight:bold">...</div>
<div style="position:absolute;left:2224px;top:20px;width:48px;height:48px;border:4px solid #b0b0b0;border-radius:50%;line-height:44px;text-align:center;color:#999;font-size:48px">+</div>
<div style="position:absolute;left:2348px;top:24px;width:8px;height:8px;background:#999;box-shadow:0 16px 0 #999,0 32px 0 #999"></div>
<div style="position:absolute;left:2420px;top:28px;width:0;height:0;border-top:16px solid transparent;border-bottom:16px solid transparent;border-right:24px solid #666"></div>
<div style="position:absolute;left:2464px;top:32px;width:896px;height:32px;border-radius:16px;background:#808080"></div>
<div style="position:absolute;left:8px;top:32px;width:0;height:0;border-top:12px solid transparent;border-bottom:12px solid transparent;border-right:16px solid #c8c8c8"></div>
<div style="position:absolute;left:104px;top:32px;width:0;height:0;border-top:12px solid transparent;border-bottom:12px solid transparent;border-left:16px solid #217346"></div>
<div style="position:absolute;left:0;top:96px;width:4096px;height:16px;background:#fafafa;border-top:4px solid #cccccc"></div>
</div>
</div>
</div>
</body></html>
